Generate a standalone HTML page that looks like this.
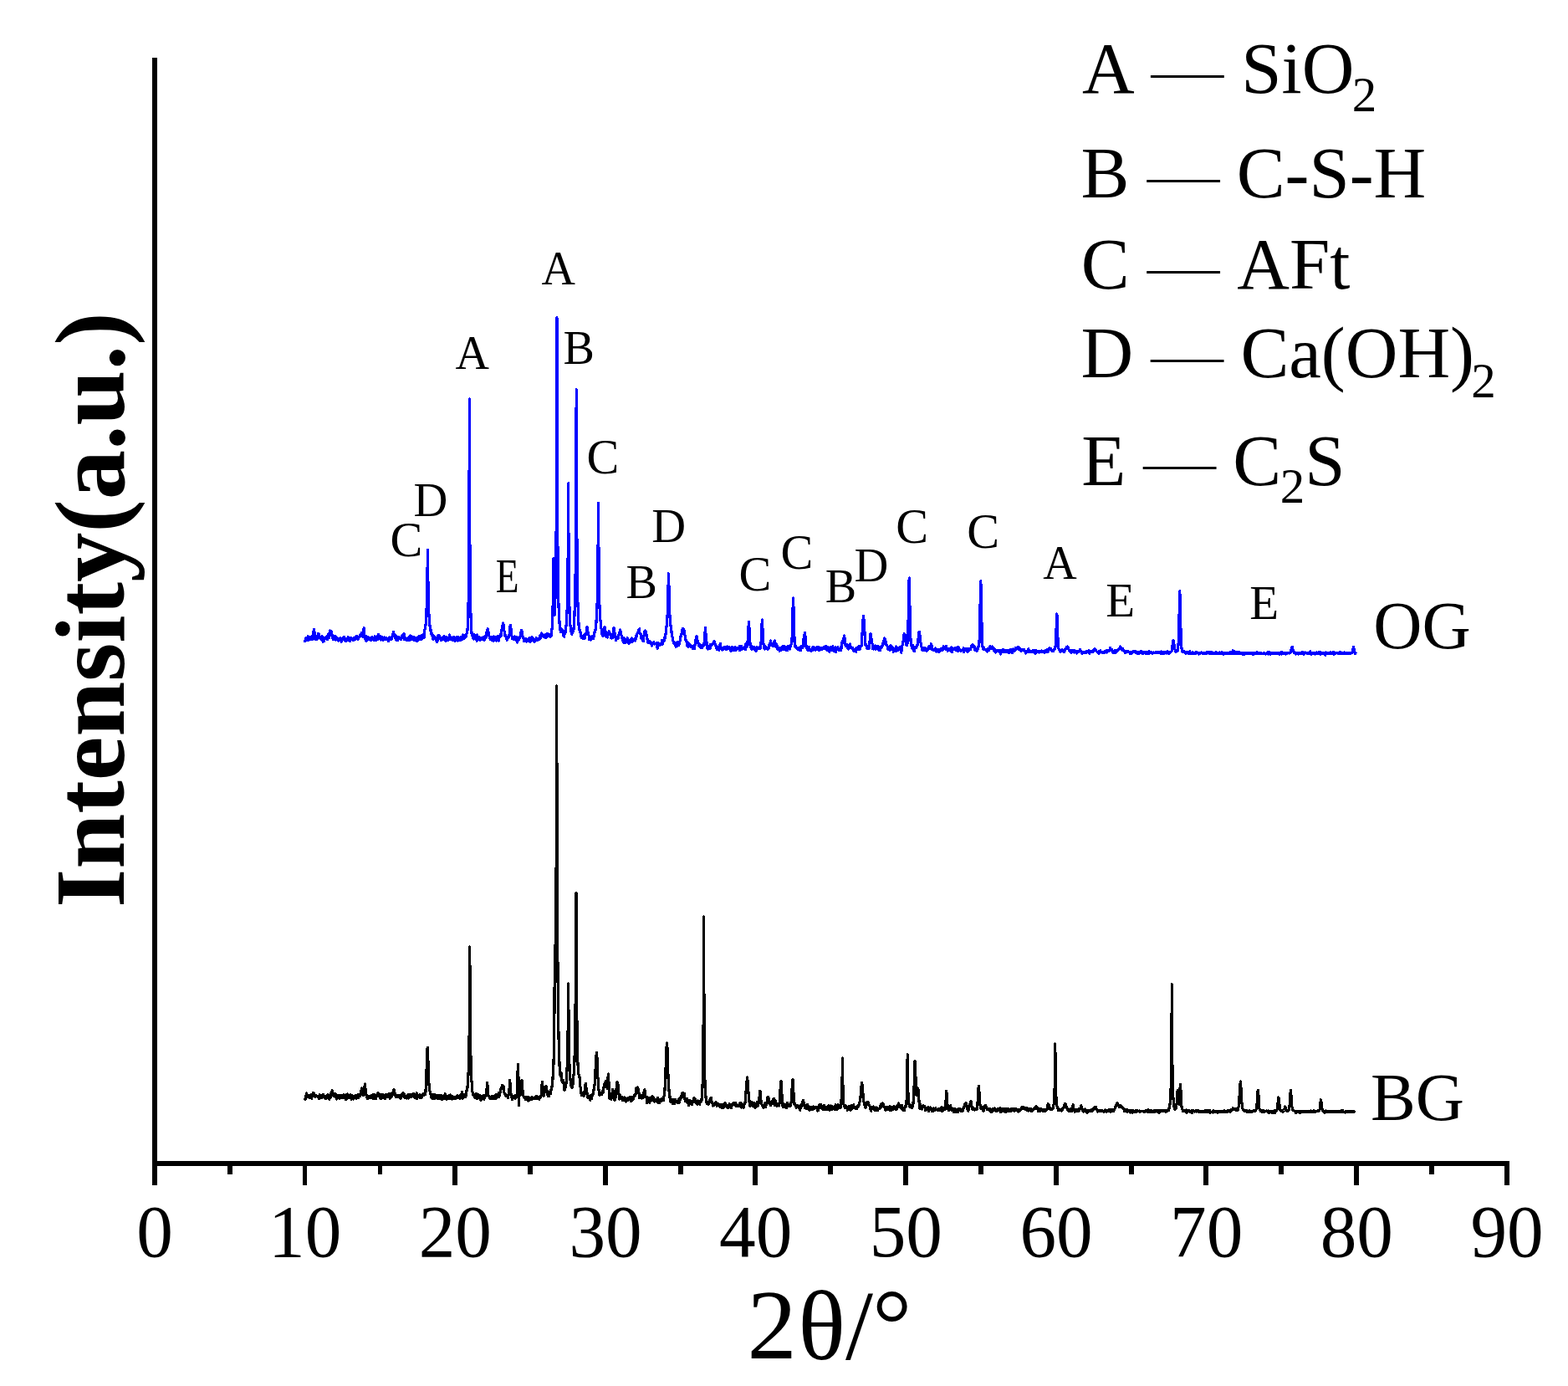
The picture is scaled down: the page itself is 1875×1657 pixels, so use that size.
<!DOCTYPE html>
<html lang="en"><head><meta charset="utf-8"><title>XRD patterns of OG and BG</title>
<style>
html,body{margin:0;padding:0;background:#fff;}
body{width:1875px;height:1657px;overflow:hidden;}
svg{display:block;}
svg text{font-family:'Liberation Serif','Times New Roman',Times,serif;fill:#000;}
</style></head>
<body>
<svg width="1875" height="1657" viewBox="0 0 1875 1657">
<rect width="1875" height="1657" fill="#fff"/>
<g fill="#000" shape-rendering="crispEdges">
<rect x="182" y="69" width="6" height="1325"/>
<rect x="182" y="1388" width="1623" height="6"/>
<rect x="182" y="1390" width="6" height="27"/>
<rect x="272" y="1390" width="6" height="14"/>
<rect x="362" y="1390" width="5" height="27"/>
<rect x="452" y="1390" width="5" height="14"/>
<rect x="541" y="1390" width="6" height="27"/>
<rect x="631" y="1390" width="6" height="14"/>
<rect x="721" y="1390" width="6" height="27"/>
<rect x="811" y="1390" width="6" height="14"/>
<rect x="900" y="1390" width="6" height="27"/>
<rect x="990" y="1390" width="6" height="14"/>
<rect x="1080" y="1390" width="6" height="27"/>
<rect x="1170" y="1390" width="6" height="14"/>
<rect x="1260" y="1390" width="6" height="27"/>
<rect x="1350" y="1390" width="6" height="14"/>
<rect x="1439" y="1390" width="6" height="27"/>
<rect x="1529" y="1390" width="6" height="14"/>
<rect x="1619" y="1390" width="6" height="27"/>
<rect x="1709" y="1390" width="6" height="14"/>
<rect x="1799" y="1390" width="6" height="27"/>
</g>
<polyline fill="none" stroke="#0000ff" stroke-width="3.20" stroke-linejoin="round" stroke-linecap="square" shape-rendering="crispEdges" points="365.0,766.4 365.4,763.0 365.9,763.8 366.4,764.4 366.8,762.5 367.2,763.7 367.7,763.7 368.1,760.9 368.6,765.3 369.1,764.7 369.5,762.7 369.9,763.4 370.4,764.5 370.9,763.2 371.3,763.2 371.8,761.2 372.2,764.4 372.6,763.6 373.1,763.7 373.6,760.6 374.0,765.0 374.4,760.5 374.9,755.5 375.4,752.6 375.8,755.0 376.2,757.1 376.7,761.3 377.1,759.2 377.6,764.8 378.1,762.6 378.5,762.0 378.9,764.8 379.4,760.2 379.9,763.0 380.3,757.6 380.8,758.2 381.3,758.1 381.6,761.0 382.1,763.0 382.6,761.1 383.0,764.0 383.4,762.8 383.9,764.2 384.4,762.2 384.8,760.7 385.2,760.6 385.7,764.1 386.1,767.1 386.6,764.0 387.1,762.7 387.5,766.6 387.9,763.9 388.4,763.7 388.9,763.9 389.3,763.2 389.8,762.9 390.2,761.0 390.6,764.0 391.1,762.9 391.6,764.7 392.0,761.8 392.4,758.8 392.9,760.8 393.4,762.6 393.8,757.9 394.2,755.7 394.7,753.9 395.3,755.1 395.6,754.8 396.1,754.3 396.5,760.0 396.9,758.6 397.4,760.5 397.9,763.6 398.3,764.5 398.8,762.3 399.2,763.5 399.6,764.3 400.1,763.0 400.6,760.5 401.0,764.5 401.4,764.9 401.9,764.2 402.4,762.1 402.8,763.3 403.2,762.7 403.7,763.2 404.1,765.7 404.6,766.1 405.1,764.8 405.5,764.6 405.9,764.8 406.4,763.7 406.9,763.6 407.3,762.7 407.8,763.7 408.2,767.4 408.6,765.1 409.1,763.2 409.6,763.0 410.0,762.4 410.4,764.4 410.9,764.4 411.4,761.5 411.8,764.6 412.2,762.9 412.7,766.1 413.1,764.0 413.6,766.5 414.1,763.1 414.5,763.3 414.9,764.3 415.4,765.5 415.9,764.7 416.3,761.8 416.8,764.1 417.2,763.8 417.6,763.1 418.1,762.8 418.6,766.6 419.0,763.2 419.4,762.4 419.9,764.8 420.4,764.0 420.8,763.7 421.2,765.0 421.7,764.6 422.1,764.4 422.6,765.3 423.1,764.2 423.5,762.8 423.9,763.2 424.4,762.9 424.9,764.1 425.3,762.0 425.8,760.8 426.2,763.8 426.6,761.5 427.1,760.5 427.6,764.2 428.0,762.4 428.4,764.3 428.9,762.5 429.4,761.4 429.8,760.7 430.2,761.2 430.7,760.5 431.1,758.5 431.7,759.1 432.1,756.9 432.5,760.2 432.9,758.1 433.4,760.9 433.9,761.3 434.3,758.8 434.8,755.4 435.1,750.9 435.6,756.0 436.1,761.0 436.6,763.3 437.0,761.3 437.4,763.8 437.9,766.3 438.4,761.1 438.8,764.3 439.2,765.4 439.7,762.5 440.1,764.6 440.6,762.0 441.1,762.4 441.5,762.4 441.9,764.1 442.4,763.6 442.9,765.3 443.3,762.3 443.8,763.6 444.2,765.3 444.6,764.7 445.1,761.7 445.6,764.8 446.0,763.0 446.4,764.4 446.9,764.3 447.4,765.7 447.8,763.9 448.2,760.8 448.7,761.5 449.1,764.9 449.6,763.3 450.1,765.4 450.5,763.9 450.9,762.0 451.4,764.5 451.9,760.8 452.3,758.1 452.8,764.0 453.0,760.6 453.6,762.3 454.1,763.6 454.6,763.0 455.0,760.5 455.4,765.1 455.9,761.3 456.4,761.5 456.8,763.1 457.2,765.0 457.7,764.2 458.1,765.1 458.6,763.1 459.1,763.5 459.5,762.0 459.9,763.3 460.4,764.7 460.9,763.3 461.3,764.5 461.8,762.9 462.2,762.8 462.6,763.8 463.1,763.4 463.6,764.7 464.0,764.0 464.4,766.5 464.9,763.3 465.4,763.3 465.8,762.0 466.2,763.6 466.7,764.6 467.1,762.3 467.6,763.2 468.1,764.1 468.5,762.2 468.9,760.5 469.4,761.3 469.9,757.9 470.3,756.6 470.6,755.6 471.2,758.9 471.6,758.5 472.1,760.0 472.6,762.5 473.0,762.6 473.4,760.1 473.9,765.4 474.4,763.5 474.8,764.7 475.2,761.7 475.7,765.7 476.1,762.7 476.6,763.4 477.1,761.4 477.5,763.3 477.9,763.2 478.4,763.2 478.9,764.2 479.3,763.4 479.8,764.6 480.2,761.7 480.6,760.0 481.1,760.3 481.6,760.2 482.0,758.6 482.4,760.5 482.9,757.5 483.4,762.2 483.8,764.8 484.2,763.1 484.7,762.5 485.1,764.0 485.6,762.8 486.1,764.6 486.5,763.6 486.9,765.9 487.4,764.5 487.9,762.5 488.3,764.7 488.8,765.2 489.2,762.8 489.6,763.0 490.1,760.0 490.6,765.2 491.0,762.8 491.4,760.3 491.9,760.9 492.4,763.4 492.8,764.9 493.2,763.6 493.7,764.4 494.1,761.9 494.6,761.5 495.1,765.1 495.5,764.4 496.0,763.6 496.4,765.7 496.9,762.1 497.3,762.9 497.8,765.2 498.2,766.5 498.6,763.5 499.1,766.1 499.6,762.4 500.0,763.9 500.5,763.0 500.9,760.7 501.4,763.6 501.8,764.6 502.2,762.7 502.7,762.7 503.1,764.9 503.6,760.5 504.1,759.8 504.5,760.9 505.0,759.6 505.4,763.2 505.9,761.0 506.3,758.3 506.8,757.7 507.2,762.0 507.6,754.7 508.1,752.2 508.6,751.0 509.0,747.6 509.5,741.7 509.9,732.3 510.4,720.3 510.8,702.1 511.4,657.2 511.7,674.9 512.1,711.6 512.6,727.9 513.0,736.2 513.5,742.9 514.0,748.5 514.4,750.5 514.9,752.1 515.3,756.8 515.8,755.6 516.2,759.7 516.6,757.7 517.1,760.6 517.5,761.1 518.0,764.6 518.5,760.4 518.9,760.1 519.4,761.6 519.8,761.0 520.2,762.0 520.7,763.8 521.1,764.4 521.6,765.9 522.0,762.2 522.5,767.6 523.0,766.7 523.4,763.2 523.9,759.9 524.3,763.5 524.8,763.8 525.2,760.0 525.6,763.8 526.1,763.4 526.5,762.5 527.0,764.8 527.5,765.4 527.9,763.0 528.4,764.2 528.8,762.8 529.2,762.6 529.7,764.0 530.1,764.7 530.6,763.0 531.0,760.3 531.5,764.8 532.0,761.3 532.4,764.1 532.9,766.8 533.3,763.9 533.8,762.0 534.2,761.6 534.6,765.8 535.1,763.9 535.5,764.8 536.0,765.4 536.5,763.9 536.9,763.5 537.4,762.4 537.8,759.0 538.2,761.5 538.7,763.8 539.1,763.7 539.6,764.6 540.0,763.8 540.5,764.2 541.0,765.2 541.4,762.5 541.9,763.5 542.3,761.4 542.8,765.5 543.2,764.0 543.6,764.7 544.1,766.4 544.5,765.7 545.0,763.8 545.5,765.2 545.9,761.6 546.4,764.6 546.8,764.1 547.2,761.3 547.7,766.0 548.1,762.7 548.6,764.9 549.0,763.2 549.5,765.4 550.0,765.9 550.4,762.4 550.9,761.3 551.3,763.5 551.8,765.0 552.2,763.0 552.6,762.6 553.1,764.3 553.5,759.0 554.0,762.2 554.5,761.0 554.9,763.5 555.4,761.7 555.8,760.8 556.2,761.7 556.7,759.5 557.1,761.1 557.6,759.0 558.0,757.9 558.5,754.8 559.0,753.2 559.4,744.3 559.9,732.6 560.3,709.6 560.8,662.5 561.4,477.0 561.6,597.4 562.1,683.3 562.5,717.4 563.0,736.1 563.5,748.6 563.9,756.9 564.4,755.7 564.8,760.0 565.2,760.0 565.7,762.7 566.1,762.7 566.6,764.1 567.0,758.3 567.5,762.0 568.0,761.5 568.4,763.1 568.9,762.2 569.3,762.4 569.8,764.6 570.2,766.6 570.6,759.1 571.1,763.2 571.5,764.2 572.0,763.8 572.5,763.2 572.9,761.6 573.4,762.3 573.8,765.0 574.2,765.6 574.7,764.0 575.1,762.5 575.6,764.0 576.0,763.4 576.5,764.7 577.0,764.0 577.4,762.7 577.9,764.0 578.3,761.7 578.8,764.8 579.2,765.2 579.6,761.2 580.1,763.2 580.5,760.1 581.0,762.1 581.5,760.0 581.9,756.0 582.4,755.8 583.0,752.6 583.2,751.8 583.7,753.5 584.1,756.4 584.6,758.3 585.0,760.9 585.5,760.9 586.0,763.9 586.4,764.8 586.9,762.6 587.3,761.3 587.8,764.8 588.2,765.6 588.6,763.5 589.1,761.8 589.5,764.3 590.0,766.3 590.5,760.9 590.9,764.7 591.4,763.4 591.8,762.6 592.2,764.7 592.7,761.8 593.1,764.4 593.6,766.0 594.0,764.1 594.5,762.4 595.0,760.9 595.4,761.6 595.9,760.7 596.3,766.1 596.8,763.0 597.2,761.5 597.6,760.7 598.1,760.5 598.5,760.8 599.0,757.8 599.5,760.3 599.9,753.5 600.4,750.0 600.8,748.3 601.2,747.8 601.5,745.1 602.1,746.7 602.6,751.2 603.0,754.5 603.5,758.1 604.0,760.0 604.4,759.6 604.9,760.0 605.3,762.9 605.8,761.0 606.2,765.3 606.6,763.2 607.1,761.5 607.5,762.5 608.0,761.8 608.5,761.6 608.9,761.3 609.4,754.0 609.8,748.6 610.4,747.6 610.7,748.5 611.1,753.5 611.6,758.5 612.0,760.6 612.5,763.7 613.0,761.7 613.4,763.6 613.9,762.4 614.3,762.0 614.8,764.9 615.2,764.9 615.6,760.9 616.1,762.3 616.5,764.6 617.0,765.8 617.5,763.0 617.9,763.8 618.4,761.8 618.8,768.0 619.2,764.7 619.7,765.3 620.1,764.7 620.6,764.8 621.0,763.7 621.5,761.0 622.0,761.0 622.4,757.6 622.9,757.1 623.4,753.6 623.8,753.4 624.2,757.4 624.7,760.9 625.1,761.1 625.5,761.2 626.0,763.0 626.5,762.9 626.9,767.0 627.4,765.5 627.8,766.2 628.2,764.7 628.7,763.4 629.2,766.2 629.6,767.0 630.0,765.3 630.5,764.4 631.0,766.2 631.4,763.9 631.9,765.7 632.3,763.3 632.8,762.9 633.2,765.4 633.7,765.0 634.1,767.6 634.5,764.1 635.0,764.5 635.5,762.7 635.9,761.5 636.4,761.7 636.8,765.2 637.2,762.6 637.7,766.3 638.2,766.8 638.6,764.0 639.0,767.1 639.5,764.8 640.0,766.2 640.4,764.0 640.9,765.9 641.3,762.8 641.8,765.3 642.2,763.5 642.7,764.0 643.1,765.1 643.5,764.3 644.0,763.7 644.5,764.8 644.9,764.6 645.4,760.7 645.8,763.2 646.2,762.6 646.7,759.5 647.2,760.4 647.6,756.8 648.0,760.6 648.4,758.1 649.0,758.2 649.4,760.9 649.9,759.4 650.3,761.3 650.8,759.2 651.2,760.3 651.7,759.1 652.1,760.8 652.5,762.5 653.0,760.8 653.5,761.3 653.9,757.8 654.4,757.5 655.0,758.6 655.2,759.5 655.7,759.3 656.2,758.9 656.6,760.3 657.0,759.3 657.5,759.7 658.0,761.8 658.4,758.4 658.9,758.8 659.3,759.6 659.8,754.4 660.2,750.4 660.7,739.3 661.1,725.4 661.6,667.8 662.0,709.9 662.5,727.2 662.9,735.8 663.4,731.2 663.8,721.3 664.2,703.1 664.7,677.7 665.2,626.4 665.6,503.0 665.9,379.9 666.5,597.1 667.0,665.1 667.4,699.7 667.9,720.4 668.3,733.5 668.8,739.7 669.2,748.3 669.7,750.3 670.1,754.2 670.5,755.6 671.0,753.4 671.5,752.1 671.8,753.6 672.4,755.9 672.8,756.3 673.2,754.0 673.7,759.5 674.2,760.7 674.6,761.3 675.0,757.8 675.5,756.9 676.0,755.8 676.4,755.6 676.9,749.1 677.3,745.9 677.8,737.2 678.2,727.5 678.7,705.3 679.1,669.5 679.6,577.8 680.0,653.5 680.5,702.3 680.9,725.1 681.4,733.3 681.8,745.6 682.2,750.1 682.7,752.0 683.2,756.8 683.6,755.9 684.0,758.1 684.5,754.8 685.0,753.4 685.4,754.9 685.9,753.6 686.3,746.7 686.8,740.3 687.2,727.8 687.7,710.5 688.1,686.6 688.5,641.7 689.2,465.6 689.5,539.9 689.9,643.7 690.4,691.0 690.8,716.6 691.2,728.5 691.7,739.9 692.2,749.3 692.6,751.6 693.0,752.9 693.5,754.9 694.0,755.3 694.4,760.8 694.9,759.2 695.3,762.6 695.8,762.8 696.2,760.6 696.7,761.1 697.1,763.3 697.5,762.4 698.0,762.7 698.5,759.6 698.9,763.6 699.4,760.5 699.8,757.7 700.2,759.0 700.7,758.3 701.2,757.6 701.6,750.2 702.0,749.4 702.5,754.9 703.0,755.4 703.4,758.0 703.9,758.9 704.3,760.1 704.8,764.7 705.2,762.1 705.7,761.8 706.1,761.9 706.5,765.2 707.0,761.6 707.5,763.5 707.9,762.7 708.4,762.4 708.8,760.3 709.2,762.3 709.7,763.3 710.2,759.8 710.6,757.4 711.0,755.5 711.5,756.0 712.0,752.8 712.4,749.8 712.9,745.4 713.3,736.8 713.8,731.6 714.2,717.6 714.7,695.5 715.1,652.5 715.5,601.6 716.0,664.9 716.5,700.3 716.9,722.6 717.4,731.9 717.8,739.6 718.2,744.1 718.7,750.8 719.2,752.2 719.6,755.3 720.0,758.5 720.5,758.9 721.0,760.9 721.4,759.4 721.9,756.5 722.3,753.5 722.8,749.8 723.1,749.6 723.7,752.7 724.1,756.0 724.5,761.1 725.0,761.6 725.5,761.3 725.9,759.6 726.4,762.1 726.8,760.7 727.2,758.9 727.7,756.5 728.2,754.6 728.5,755.6 729.0,756.9 729.5,758.0 730.0,759.6 730.4,760.5 730.9,762.8 731.3,763.1 731.8,761.4 732.2,762.9 732.7,760.6 733.1,757.0 733.5,751.5 733.9,750.4 734.5,751.6 734.9,758.9 735.4,757.6 735.8,762.3 736.2,763.2 736.7,765.5 737.2,764.3 737.6,762.7 738.0,761.9 738.5,762.6 739.0,763.3 739.4,762.1 739.9,760.1 740.3,757.1 740.8,755.4 741.2,755.4 741.6,753.1 742.1,754.3 742.5,759.0 743.0,759.8 743.5,760.4 743.9,763.8 744.4,762.6 744.8,764.5 745.2,767.4 745.7,768.2 746.2,762.6 746.6,766.5 747.0,768.6 747.5,764.7 748.0,766.0 748.4,768.1 748.9,764.9 749.3,766.5 749.8,765.7 750.2,762.7 750.7,766.4 751.1,765.6 751.5,767.5 752.0,769.4 752.5,767.1 752.9,765.5 753.4,766.8 753.8,766.5 754.2,767.8 754.7,763.9 755.2,764.3 755.6,762.9 756.0,767.1 756.5,766.1 757.0,765.0 757.4,764.7 757.9,764.8 758.3,764.0 758.8,764.6 759.2,763.8 759.7,766.1 760.1,763.5 760.5,760.5 761.0,759.5 761.5,760.9 761.9,758.1 762.4,756.2 762.8,755.5 763.2,756.0 763.7,753.1 764.2,752.3 764.6,751.7 765.0,756.7 765.5,756.9 766.0,758.0 766.4,759.4 766.9,763.0 767.3,762.7 767.8,762.8 768.2,766.0 768.7,762.2 769.1,761.2 769.5,766.3 770.0,759.9 770.5,757.6 770.9,755.2 771.4,754.5 771.8,754.1 772.2,756.1 772.7,757.7 773.2,758.7 773.6,759.1 774.0,764.0 774.5,767.5 775.0,768.0 775.4,766.8 775.9,768.9 776.3,767.4 776.8,768.1 777.2,766.4 777.7,768.1 778.1,768.9 778.5,768.5 779.0,770.1 779.5,772.0 779.9,771.2 780.4,768.7 780.8,768.1 781.2,768.2 781.7,767.8 782.2,769.5 782.6,770.1 783.0,769.8 783.5,769.9 784.0,769.8 784.4,769.4 784.9,768.5 785.3,772.4 785.8,771.4 786.2,775.5 786.7,768.2 787.1,768.7 787.5,769.7 788.0,771.6 788.5,771.2 788.9,771.2 789.4,771.1 789.8,771.0 790.2,770.2 790.7,769.6 791.2,768.4 791.6,765.5 792.0,767.6 792.5,770.2 793.0,765.9 793.4,765.0 793.9,766.7 794.3,764.0 794.8,761.8 795.2,763.3 795.7,759.7 796.1,757.3 796.5,752.0 797.0,749.6 797.5,744.3 797.9,738.3 798.4,729.7 798.8,715.7 799.2,694.5 799.5,685.8 800.2,710.2 800.6,727.8 801.0,737.5 801.5,742.8 802.0,747.4 802.4,752.8 802.9,754.3 803.3,759.5 803.8,761.6 804.2,761.4 804.7,764.5 805.1,767.3 805.5,768.3 806.0,769.0 806.5,767.8 806.9,768.1 807.4,768.4 807.8,770.3 808.2,773.4 808.7,772.1 809.2,772.5 809.6,772.2 810.0,767.4 810.5,769.6 811.0,769.0 811.4,771.3 811.9,771.5 812.3,766.9 812.8,766.9 813.2,766.3 813.7,762.9 814.1,760.6 814.5,758.3 815.0,758.4 815.5,753.2 815.9,754.5 816.4,751.6 816.7,751.2 817.2,754.5 817.7,752.6 818.2,754.6 818.6,759.0 819.0,759.2 819.5,762.0 820.0,765.0 820.4,767.1 820.9,766.2 821.3,768.7 821.8,771.0 822.2,772.9 822.7,768.0 823.1,773.6 823.5,773.2 824.0,770.2 824.5,769.8 824.9,772.9 825.4,771.7 825.8,772.6 826.2,773.8 826.7,771.9 827.2,772.8 827.6,773.3 828.0,774.0 828.5,775.4 829.0,775.2 829.4,772.8 829.9,771.8 830.3,775.5 830.8,771.9 831.2,770.0 831.7,765.4 832.1,765.7 832.5,761.0 832.9,761.6 833.5,761.1 833.9,765.0 834.4,768.5 834.8,767.9 835.2,770.2 835.7,772.2 836.2,770.7 836.6,771.0 837.0,771.8 837.5,770.9 838.0,774.2 838.4,771.7 838.9,774.5 839.3,774.7 839.8,771.3 840.2,773.2 840.7,772.2 841.1,770.8 841.5,771.3 842.0,769.3 842.5,765.8 842.9,758.1 843.4,750.4 843.8,754.0 844.2,763.9 844.7,770.9 845.2,767.8 845.6,774.8 846.0,772.9 846.5,775.9 847.0,772.9 847.4,772.4 847.9,773.8 848.3,775.7 848.8,773.9 849.2,770.1 849.7,774.9 850.1,771.2 850.5,772.1 851.0,771.6 851.5,770.2 851.9,770.5 852.4,769.9 852.8,769.2 853.2,768.5 853.7,766.7 854.2,766.6 854.6,766.8 855.0,769.9 855.5,771.5 856.0,771.6 856.4,773.5 856.9,774.7 857.3,776.0 857.8,776.8 858.2,773.8 858.7,774.0 859.1,776.8 859.5,777.1 860.0,777.1 860.5,770.9 860.9,774.3 861.4,769.5 861.8,775.9 862.2,774.9 862.7,774.9 863.2,774.6 863.6,776.9 864.0,774.4 864.5,776.6 865.0,775.8 865.4,775.5 865.9,775.7 866.3,775.1 866.8,773.2 867.2,776.1 867.7,776.2 868.1,774.8 868.5,776.2 869.0,776.5 869.5,773.0 869.9,774.9 870.4,774.4 870.8,773.7 871.2,775.6 871.7,773.8 872.2,774.5 872.6,775.6 873.0,775.7 873.5,775.7 874.0,778.8 874.4,774.4 874.9,775.6 875.3,773.3 875.8,776.0 876.2,777.1 876.7,777.2 877.1,774.3 877.6,774.8 878.0,777.3 878.5,775.1 878.9,776.8 879.4,773.8 879.8,777.5 880.2,777.0 880.7,776.1 881.1,774.1 881.6,775.1 882.1,775.6 882.5,775.8 883.0,775.2 883.4,775.0 883.9,775.7 884.3,777.6 884.8,772.2 885.2,773.2 885.6,772.9 886.1,774.3 886.6,772.6 887.0,776.2 887.5,775.5 887.9,774.9 888.4,774.2 888.8,775.5 889.2,775.5 889.7,775.7 890.1,774.0 890.6,776.1 891.1,772.6 891.5,776.8 892.0,769.6 892.4,773.2 892.9,771.6 893.3,773.4 893.8,766.7 894.2,766.0 894.6,751.8 895.1,748.7 895.4,743.2 896.0,751.1 896.5,761.2 896.9,771.0 897.4,772.9 897.8,769.7 898.2,776.0 898.7,774.9 899.1,772.3 899.6,776.2 900.1,773.2 900.5,775.6 901.0,775.7 901.4,774.4 901.9,776.5 902.3,773.8 902.8,775.8 903.2,774.6 903.6,775.2 904.1,778.6 904.6,775.7 905.0,773.7 905.5,775.3 905.9,774.2 906.4,775.4 906.8,775.5 907.2,775.3 907.7,775.2 908.1,773.9 908.6,775.2 909.1,775.6 909.5,771.6 910.0,768.9 910.4,761.0 910.9,750.5 911.3,740.9 911.8,747.3 912.2,761.0 912.6,766.6 913.1,771.0 913.6,773.9 914.0,775.4 914.5,776.2 914.9,774.4 915.4,772.8 915.8,775.7 916.2,774.8 916.7,775.8 917.1,775.3 917.6,776.1 918.1,775.9 918.5,775.9 919.0,773.2 919.4,774.7 919.9,771.0 920.3,770.2 920.8,771.2 921.2,767.2 921.6,766.1 922.1,769.2 922.6,770.0 923.0,771.9 923.5,771.7 923.9,772.7 924.4,771.8 924.8,770.4 925.2,772.7 925.7,768.0 926.1,766.2 926.7,766.1 927.1,769.5 927.5,769.5 928.0,769.3 928.4,771.6 928.9,773.9 929.3,775.4 929.8,772.0 930.2,776.4 930.6,774.8 931.1,774.2 931.6,774.7 932.0,776.7 932.5,778.3 932.9,775.8 933.4,776.4 933.8,774.3 934.2,776.4 934.7,776.9 935.1,773.2 935.6,774.8 936.1,776.9 936.5,772.8 937.0,775.0 937.4,776.6 937.9,772.9 938.3,775.0 938.8,775.7 939.2,777.0 939.6,773.5 940.1,777.3 940.6,776.0 941.0,777.4 941.5,777.3 941.9,775.9 942.4,776.1 942.8,772.4 943.2,772.9 943.7,773.3 944.1,774.2 944.6,776.0 945.1,771.3 945.5,773.1 946.0,770.6 946.4,768.4 946.9,768.7 947.3,756.4 947.8,741.7 948.2,722.2 948.5,715.1 949.1,729.4 949.6,754.6 950.0,763.1 950.5,767.9 950.9,773.3 951.4,773.5 951.8,772.8 952.2,773.8 952.7,774.9 953.1,774.9 953.6,776.2 954.1,774.5 954.5,774.6 955.0,776.1 955.4,775.7 955.9,777.0 956.3,774.8 956.8,775.1 957.2,773.3 957.6,777.5 958.1,772.8 958.6,775.2 959.0,773.2 959.5,774.7 959.9,774.4 960.4,768.8 960.8,768.1 961.2,761.5 961.7,762.2 962.2,757.6 962.6,756.6 963.1,762.2 963.5,769.7 964.0,773.3 964.4,775.0 964.9,772.9 965.3,774.4 965.8,777.6 966.2,774.0 966.6,774.8 967.1,773.9 967.6,773.6 968.0,777.5 968.5,776.6 968.9,776.3 969.4,776.6 969.8,777.3 970.2,778.1 970.7,775.7 971.1,775.2 971.6,774.1 972.1,777.5 972.5,775.0 973.0,773.4 973.4,775.4 973.9,775.8 974.3,777.1 974.8,777.4 975.2,774.7 975.6,774.6 976.1,775.3 976.6,773.9 977.0,775.7 977.5,776.6 977.9,775.9 978.4,773.3 978.8,773.9 979.2,777.9 979.7,774.2 980.1,777.0 980.6,776.9 981.1,775.3 981.5,774.3 982.0,776.2 982.4,774.4 982.9,775.6 983.3,776.0 983.8,774.7 984.2,775.5 984.6,775.4 985.1,773.9 985.6,775.6 986.0,774.8 986.5,772.9 986.9,775.3 987.4,775.4 987.8,774.9 988.2,772.6 988.7,777.1 989.1,777.0 989.6,776.9 990.1,776.4 990.5,773.8 991.0,776.0 991.4,774.4 991.9,779.3 992.3,775.0 992.8,776.9 993.2,773.3 993.6,773.9 994.1,775.0 994.6,776.9 995.0,776.7 995.5,776.3 995.9,772.8 996.4,777.6 996.8,774.3 997.2,778.3 997.7,778.7 998.1,777.1 998.6,777.3 999.1,773.7 999.5,779.8 1000.0,776.0 1000.4,777.2 1000.9,774.2 1001.3,775.5 1001.8,773.7 1002.2,775.1 1002.6,775.5 1003.1,775.8 1003.6,777.5 1004.0,776.0 1004.5,775.4 1004.9,774.8 1005.4,777.6 1005.8,772.8 1006.2,774.7 1006.7,768.4 1007.1,768.3 1007.6,768.2 1008.1,765.0 1008.5,768.1 1009.1,762.1 1009.4,760.0 1009.9,762.2 1010.3,765.8 1010.8,771.0 1011.2,772.1 1011.6,772.4 1012.1,770.9 1012.6,772.6 1013.0,770.1 1013.5,772.2 1013.9,775.4 1014.4,775.9 1014.8,772.1 1015.2,773.4 1015.7,774.3 1016.1,770.6 1016.4,770.1 1017.1,772.6 1017.5,774.1 1018.0,774.5 1018.4,774.2 1018.9,774.7 1019.3,775.6 1019.8,774.7 1020.2,777.7 1020.6,777.0 1021.1,777.3 1021.6,778.8 1022.0,778.1 1022.5,777.9 1022.9,776.2 1023.4,775.3 1023.8,779.2 1024.2,774.5 1024.7,774.5 1025.2,774.1 1025.6,775.7 1026.1,776.0 1026.5,776.8 1027.0,774.7 1027.4,772.2 1027.8,775.2 1028.3,775.9 1028.8,774.0 1029.2,773.0 1029.7,772.8 1030.1,771.9 1030.6,765.8 1031.0,757.9 1031.5,751.8 1031.9,744.4 1032.3,736.1 1032.6,737.9 1033.2,742.7 1033.7,752.5 1034.2,759.6 1034.6,764.7 1035.1,771.7 1035.5,770.7 1036.0,771.9 1036.4,774.1 1036.8,775.3 1037.3,774.2 1037.8,772.7 1038.2,775.1 1038.7,774.5 1039.1,775.7 1039.6,770.1 1040.0,767.5 1040.5,762.2 1040.9,757.3 1041.2,758.8 1041.8,763.2 1042.2,764.5 1042.7,768.7 1043.2,770.5 1043.6,775.9 1044.1,773.7 1044.5,775.9 1045.0,774.0 1045.4,775.6 1045.8,774.6 1046.3,772.0 1046.8,775.8 1047.2,776.5 1047.7,772.6 1048.1,775.5 1048.6,775.1 1049.0,774.2 1049.5,775.4 1049.9,772.8 1050.3,776.2 1050.8,777.5 1051.2,773.8 1051.7,775.5 1052.2,777.7 1052.6,775.6 1053.1,774.4 1053.5,773.5 1054.0,774.7 1054.4,773.5 1054.8,773.8 1055.3,769.4 1055.8,772.0 1056.2,768.3 1056.7,768.3 1057.1,764.9 1057.6,763.1 1057.9,764.8 1058.5,763.9 1058.9,766.0 1059.3,769.0 1059.8,771.2 1060.2,771.4 1060.7,771.5 1061.2,772.7 1061.6,775.0 1062.1,776.4 1062.5,774.7 1063.0,775.2 1063.4,774.5 1063.8,776.1 1064.3,777.3 1064.8,771.6 1065.2,776.4 1065.7,775.2 1066.1,772.6 1066.6,776.6 1067.0,776.0 1067.5,776.7 1067.9,774.1 1068.3,779.4 1068.8,776.3 1069.2,775.7 1069.7,778.5 1070.2,777.2 1070.6,777.4 1071.1,777.9 1071.5,773.1 1072.0,778.7 1072.4,775.6 1072.8,776.6 1073.3,777.5 1073.8,775.0 1074.2,776.5 1074.7,777.1 1075.1,775.8 1075.6,776.6 1076.0,773.4 1076.5,773.8 1076.9,773.7 1077.3,775.7 1077.8,780.3 1078.2,774.5 1078.7,772.7 1079.2,771.0 1079.6,769.9 1080.1,766.1 1080.5,759.7 1081.0,760.0 1081.3,757.6 1081.8,760.5 1082.3,759.4 1082.8,763.4 1083.2,769.3 1083.7,767.5 1084.1,771.5 1084.6,771.3 1085.0,769.3 1085.5,764.8 1085.9,752.8 1086.3,731.1 1086.8,702.6 1087.2,690.9 1087.7,713.3 1088.2,738.1 1088.6,757.2 1089.1,767.0 1089.5,769.7 1090.0,772.9 1090.4,773.2 1090.8,775.5 1091.3,773.2 1091.8,771.4 1092.2,774.3 1092.7,776.2 1093.1,778.9 1093.6,776.8 1094.0,773.9 1094.5,775.0 1094.9,773.8 1095.3,774.7 1095.8,773.2 1096.2,771.3 1096.7,772.9 1097.2,770.3 1097.6,766.5 1098.1,763.3 1098.5,761.7 1099.0,756.0 1099.2,755.4 1099.8,759.6 1100.3,760.1 1100.8,767.6 1101.2,768.8 1101.7,771.1 1102.1,774.0 1102.6,777.2 1103.0,774.3 1103.5,777.1 1103.9,776.4 1104.3,774.1 1104.8,777.5 1105.2,775.1 1105.7,774.2 1106.2,775.3 1106.6,775.4 1107.1,777.3 1107.5,775.5 1108.0,778.7 1108.4,776.8 1108.8,775.5 1109.3,775.3 1109.8,776.7 1110.2,773.2 1110.7,772.6 1111.1,773.9 1111.6,775.4 1112.0,773.9 1112.5,772.9 1112.9,772.6 1113.3,769.8 1113.8,773.2 1114.2,772.0 1114.7,776.5 1115.2,775.9 1115.6,776.2 1116.1,777.1 1116.5,777.2 1117.0,777.1 1117.4,777.3 1117.8,776.1 1118.3,775.0 1118.8,777.4 1119.2,779.0 1119.7,778.4 1120.1,776.7 1120.6,777.9 1121.0,776.4 1121.5,777.6 1121.9,776.2 1122.3,777.2 1122.8,779.9 1123.2,778.1 1123.7,779.1 1124.2,775.9 1124.6,775.9 1125.1,776.8 1125.5,777.4 1126.0,776.2 1126.4,777.6 1126.8,775.0 1127.3,777.3 1127.8,776.3 1128.2,772.9 1128.7,775.0 1129.0,774.1 1129.6,775.7 1130.0,773.9 1130.5,775.6 1130.9,776.4 1131.3,772.2 1131.8,773.8 1132.2,776.8 1132.7,776.7 1133.2,778.4 1133.6,777.4 1134.1,775.4 1134.5,777.6 1135.0,776.1 1135.4,776.9 1135.8,776.5 1136.3,777.7 1136.8,775.2 1137.2,775.6 1137.7,774.1 1138.1,780.0 1138.6,775.5 1139.0,775.5 1139.5,774.9 1139.9,775.3 1140.3,775.2 1140.8,776.2 1141.2,775.3 1141.9,774.9 1142.2,774.1 1142.6,775.1 1143.1,777.1 1143.5,775.9 1144.0,776.7 1144.4,773.9 1144.8,777.5 1145.3,777.4 1145.8,778.9 1146.2,773.6 1146.7,777.4 1147.1,777.2 1147.6,777.5 1148.0,776.6 1148.5,777.7 1148.9,778.4 1149.3,777.5 1149.8,777.1 1150.2,777.2 1150.7,777.0 1151.2,777.5 1151.6,776.6 1152.1,774.9 1152.5,779.3 1153.0,775.2 1153.4,777.3 1153.8,775.8 1154.3,777.1 1154.8,776.2 1155.2,777.4 1155.7,776.4 1156.1,775.7 1156.6,777.8 1157.0,779.0 1157.5,777.7 1157.9,777.4 1158.3,775.8 1158.8,776.8 1159.2,777.2 1159.7,775.4 1160.2,776.8 1160.6,774.8 1161.1,774.3 1161.5,772.2 1162.0,771.1 1162.4,771.3 1162.7,770.9 1163.3,771.8 1163.8,771.1 1164.2,772.5 1164.7,774.4 1165.1,772.9 1165.6,777.1 1166.0,776.6 1166.5,776.4 1166.9,775.6 1167.3,777.5 1167.8,776.0 1168.2,778.5 1168.7,776.4 1169.2,773.7 1169.6,775.9 1170.1,773.4 1170.5,771.7 1171.0,767.9 1171.4,758.2 1171.8,739.3 1172.3,713.3 1172.8,694.8 1173.2,705.9 1173.7,731.8 1174.1,754.0 1174.6,767.2 1175.0,772.8 1175.5,776.1 1175.9,773.4 1176.3,775.7 1176.8,775.8 1177.2,775.9 1177.7,776.8 1178.2,776.5 1178.6,776.7 1179.1,776.3 1179.5,777.6 1180.0,778.4 1180.4,779.1 1180.8,776.5 1181.3,775.8 1181.8,776.5 1182.2,775.5 1182.7,777.2 1183.1,774.5 1183.6,775.0 1184.0,772.7 1184.5,773.4 1185.0,773.6 1185.3,775.4 1185.8,773.3 1186.2,775.1 1186.7,773.0 1187.2,774.6 1187.6,775.6 1188.1,776.4 1188.5,777.8 1189.0,778.2 1189.4,775.9 1189.8,778.4 1190.3,776.6 1190.8,780.0 1191.2,778.3 1191.7,778.2 1192.1,777.8 1192.6,778.0 1193.0,778.1 1193.5,777.3 1193.9,778.9 1194.3,778.4 1194.8,779.0 1195.2,778.1 1195.7,778.9 1196.2,777.3 1196.6,782.1 1197.1,777.4 1197.5,777.7 1198.0,779.3 1198.4,779.6 1198.8,777.4 1199.3,776.4 1199.8,776.7 1200.2,777.2 1200.7,777.4 1201.1,778.1 1201.6,779.4 1202.0,779.5 1202.5,777.6 1202.9,778.9 1203.3,779.2 1203.8,779.8 1204.2,778.1 1204.7,777.5 1205.2,779.1 1205.6,779.9 1206.1,777.7 1206.5,780.3 1207.0,780.1 1207.4,778.0 1207.8,776.6 1208.3,777.6 1208.8,777.9 1209.2,778.8 1209.7,776.4 1210.1,780.7 1210.6,780.5 1211.0,777.3 1211.5,776.0 1211.9,777.6 1212.3,778.0 1212.8,778.8 1213.2,777.9 1213.7,776.6 1214.2,774.5 1214.6,776.6 1215.1,776.6 1215.5,775.1 1216.0,775.4 1216.4,775.1 1217.0,774.8 1217.3,773.6 1217.8,775.3 1218.2,773.8 1218.7,776.9 1219.1,775.0 1219.6,776.8 1220.0,775.9 1220.5,777.4 1220.9,777.1 1221.3,778.1 1221.8,777.0 1222.2,776.3 1222.7,777.8 1223.2,777.8 1223.6,776.8 1224.1,777.6 1224.5,776.7 1225.0,778.5 1225.4,778.1 1225.8,778.5 1226.3,781.0 1226.8,778.6 1227.2,778.9 1227.7,779.1 1228.1,778.4 1228.6,778.0 1229.0,779.4 1229.5,779.6 1229.9,775.8 1230.3,778.4 1230.8,778.3 1231.2,778.1 1231.7,779.8 1232.2,778.1 1232.6,779.4 1233.1,778.1 1233.5,778.3 1234.0,779.3 1234.4,778.0 1234.8,778.5 1235.3,777.6 1235.8,777.8 1236.2,779.4 1236.7,779.2 1237.1,777.6 1237.6,777.6 1238.0,781.1 1238.5,778.1 1238.9,777.9 1239.3,779.2 1239.8,778.0 1240.2,778.4 1240.7,779.6 1241.2,779.7 1241.6,778.5 1242.1,780.0 1242.5,778.6 1243.0,778.5 1243.4,778.7 1243.8,778.4 1244.3,779.2 1244.8,779.0 1245.2,778.0 1245.7,778.9 1246.1,778.2 1246.6,778.2 1247.0,778.6 1247.5,779.6 1247.9,779.0 1248.3,779.9 1248.8,780.1 1249.2,778.6 1249.7,778.1 1250.2,777.9 1250.6,778.8 1251.1,779.2 1251.5,779.8 1252.0,776.9 1252.4,778.7 1252.8,778.5 1253.3,779.4 1253.8,776.9 1254.2,776.3 1254.7,774.7 1255.0,776.1 1255.6,775.2 1256.0,775.5 1256.5,776.0 1256.9,775.8 1257.3,777.4 1257.8,778.1 1258.2,778.6 1258.7,777.9 1259.2,778.9 1259.6,778.8 1260.1,776.3 1260.5,777.2 1261.0,775.9 1261.4,775.3 1261.8,774.5 1262.3,769.8 1262.8,762.0 1263.2,748.5 1263.8,733.9 1264.1,737.5 1264.6,751.5 1265.0,764.4 1265.5,772.4 1265.9,774.6 1266.3,777.1 1266.8,777.0 1267.2,778.6 1267.7,779.1 1268.2,779.6 1268.6,778.1 1269.1,777.1 1269.5,776.9 1270.0,778.2 1270.4,777.2 1270.8,777.0 1271.3,778.1 1271.8,777.5 1272.2,778.8 1272.7,779.6 1273.1,777.4 1273.6,777.4 1274.0,775.1 1274.5,775.9 1274.9,774.5 1275.3,773.5 1276.0,774.1 1276.2,775.5 1276.7,773.1 1277.2,774.2 1277.6,776.0 1278.1,776.9 1278.5,777.6 1279.0,777.9 1279.4,777.4 1279.8,779.1 1280.3,778.8 1280.8,777.5 1281.2,780.3 1281.7,778.6 1282.1,779.8 1282.6,777.8 1283.0,778.0 1283.5,778.6 1283.9,778.5 1284.3,780.0 1284.8,777.7 1285.2,779.3 1285.7,778.3 1286.2,779.6 1286.6,779.4 1287.1,778.7 1287.5,781.1 1288.0,779.2 1288.4,780.2 1288.8,778.1 1289.3,779.1 1289.8,779.3 1290.2,779.4 1290.7,779.0 1291.1,778.6 1291.6,776.7 1292.0,778.8 1292.5,778.5 1292.9,779.1 1293.3,780.0 1293.8,781.2 1294.2,779.8 1294.7,780.2 1295.2,779.9 1295.6,780.0 1296.1,779.8 1296.5,779.1 1297.0,779.1 1297.4,779.6 1297.8,780.9 1298.3,780.0 1298.8,780.7 1299.2,778.3 1299.7,779.6 1300.1,779.7 1300.6,779.8 1301.0,778.2 1301.5,777.8 1301.9,777.6 1302.3,779.0 1302.8,781.3 1303.2,779.5 1303.7,778.3 1304.2,779.6 1304.6,779.1 1305.1,779.4 1305.5,778.8 1306.0,778.1 1306.4,778.5 1306.8,779.2 1307.3,778.5 1307.8,778.6 1308.2,776.0 1308.7,777.1 1309.2,775.9 1309.6,776.2 1310.0,777.6 1310.5,777.2 1310.9,778.2 1311.3,779.1 1311.8,779.4 1312.2,779.8 1312.7,780.3 1313.2,779.8 1313.6,779.0 1314.1,781.4 1314.5,779.4 1315.0,779.8 1315.4,778.9 1315.8,777.7 1316.3,778.9 1316.8,779.6 1317.2,779.9 1317.7,779.5 1318.1,780.2 1318.6,780.3 1319.0,780.3 1319.5,779.5 1319.9,779.6 1320.3,779.3 1320.8,778.8 1321.2,780.6 1321.7,778.5 1322.2,779.4 1322.6,779.6 1323.1,777.7 1323.5,779.9 1324.0,778.9 1324.4,779.2 1324.8,778.5 1325.3,777.2 1325.8,778.1 1326.2,777.5 1326.7,777.6 1327.1,776.6 1327.6,774.5 1328.0,775.6 1328.5,776.4 1328.9,776.8 1329.3,777.2 1329.8,776.8 1330.2,778.3 1330.7,778.0 1331.2,780.9 1331.6,778.7 1332.1,778.2 1332.5,778.8 1333.0,780.2 1333.4,778.7 1333.8,777.1 1334.3,780.1 1334.8,779.0 1335.2,778.2 1335.7,778.9 1336.1,777.3 1336.6,776.7 1337.0,777.9 1337.5,776.3 1337.9,776.6 1338.3,775.7 1338.8,775.9 1339.2,775.0 1339.7,773.1 1340.0,774.6 1340.6,774.4 1341.1,775.8 1341.5,775.7 1342.0,777.2 1342.4,776.4 1342.8,775.6 1343.3,777.4 1343.8,778.4 1344.2,778.1 1344.7,778.3 1345.1,780.1 1345.6,779.0 1346.0,780.1 1346.5,779.5 1346.9,778.4 1347.3,778.9 1347.8,779.4 1348.2,779.9 1348.7,779.1 1349.2,778.7 1349.6,779.0 1350.1,779.4 1350.5,779.2 1351.0,779.4 1351.4,781.2 1351.8,780.1 1352.3,779.3 1352.8,779.9 1353.2,781.1 1353.7,780.4 1354.1,779.9 1354.6,778.9 1355.0,778.7 1355.5,779.7 1355.9,779.9 1356.3,778.8 1356.8,779.0 1357.2,780.0 1357.7,778.4 1358.2,778.7 1358.6,780.0 1359.1,780.4 1359.5,780.3 1360.0,780.8 1360.4,781.2 1360.8,780.7 1361.3,779.9 1361.8,781.6 1362.2,781.3 1362.7,780.8 1363.1,779.5 1363.6,780.4 1364.0,778.6 1364.5,779.9 1364.9,778.3 1365.3,779.8 1365.8,780.9 1366.2,780.1 1366.7,781.3 1367.2,780.1 1367.6,780.2 1368.1,779.9 1368.5,780.5 1369.0,780.1 1369.4,781.0 1369.8,781.4 1370.3,780.5 1370.8,779.4 1371.2,780.6 1371.7,781.2 1372.1,780.7 1372.6,780.4 1373.0,780.9 1373.5,781.2 1373.9,778.3 1374.3,781.3 1374.8,780.8 1375.2,780.6 1375.7,779.8 1376.2,780.4 1376.6,780.7 1377.1,779.2 1377.5,780.8 1378.0,780.3 1378.4,781.3 1378.8,780.8 1379.3,780.1 1379.8,780.3 1380.2,780.7 1380.7,780.4 1381.1,780.7 1381.6,779.8 1382.0,779.4 1382.5,779.9 1382.9,779.3 1383.3,779.7 1383.8,780.6 1384.2,779.1 1384.7,779.4 1385.2,780.8 1385.6,779.9 1386.1,780.3 1386.5,779.4 1387.0,779.6 1387.4,780.1 1387.8,781.5 1388.3,780.6 1388.8,779.1 1389.2,780.6 1389.7,781.0 1390.1,780.8 1390.5,779.4 1391.0,780.3 1391.5,781.8 1391.9,779.6 1392.4,780.5 1392.8,779.8 1393.2,779.4 1393.7,780.0 1394.2,781.0 1394.6,781.1 1395.0,779.6 1395.5,779.9 1396.0,779.6 1396.4,778.7 1396.9,780.6 1397.3,781.2 1397.8,781.1 1398.2,779.7 1398.7,780.9 1399.1,780.6 1399.5,779.5 1400.0,779.5 1400.5,778.9 1400.9,778.6 1401.4,778.2 1401.8,773.8 1402.2,769.9 1402.7,767.6 1403.1,765.4 1403.6,766.3 1404.0,770.7 1404.5,774.2 1405.0,776.5 1405.4,778.3 1405.9,779.2 1406.3,778.5 1406.8,778.6 1407.2,777.7 1407.7,778.4 1408.1,777.8 1408.5,775.0 1409.0,770.7 1409.5,763.0 1409.9,744.1 1410.4,719.0 1410.8,706.5 1411.2,719.5 1411.7,744.4 1412.2,761.4 1412.6,771.2 1413.0,775.1 1413.5,777.6 1414.0,779.0 1414.4,777.7 1414.9,778.8 1415.3,779.2 1415.8,779.1 1416.2,778.9 1416.7,780.4 1417.1,780.0 1417.5,780.5 1418.0,781.1 1418.5,779.9 1418.9,780.6 1419.4,780.0 1419.8,780.2 1420.2,780.5 1420.7,780.2 1421.2,779.4 1421.6,781.4 1422.0,780.5 1422.5,779.7 1423.0,779.0 1423.4,780.5 1423.9,780.9 1424.3,781.2 1424.8,781.3 1425.2,780.3 1425.7,781.0 1426.1,779.5 1426.5,780.7 1427.0,781.2 1427.5,780.2 1427.9,780.5 1428.4,780.7 1428.8,780.7 1429.2,781.6 1429.7,779.9 1430.2,781.5 1430.6,779.8 1431.0,780.2 1431.5,780.1 1432.0,780.6 1432.4,780.3 1432.9,781.0 1433.3,780.7 1433.8,782.1 1434.2,780.9 1434.7,780.5 1435.1,780.9 1435.5,781.1 1436.0,780.6 1436.5,779.9 1436.9,780.2 1437.4,780.8 1437.8,781.2 1438.2,781.0 1438.7,780.6 1439.2,781.1 1439.6,780.4 1440.0,780.9 1440.5,781.7 1441.0,781.5 1441.4,781.6 1441.9,780.5 1442.3,780.9 1442.8,780.1 1443.2,781.3 1443.7,780.5 1444.1,779.9 1444.5,780.4 1445.0,780.9 1445.5,779.3 1445.9,779.8 1446.4,781.4 1446.8,780.8 1447.2,780.7 1447.7,779.7 1448.2,781.8 1448.6,781.4 1449.0,781.2 1449.5,780.0 1450.0,781.2 1450.4,781.5 1450.9,780.6 1451.3,780.6 1451.8,780.5 1452.2,781.2 1452.7,780.6 1453.1,780.6 1453.5,779.9 1454.0,779.7 1454.5,781.4 1454.9,781.8 1455.4,781.4 1455.8,781.7 1456.2,780.5 1456.7,780.8 1457.2,781.1 1457.6,780.7 1458.0,781.9 1458.5,780.0 1459.0,780.5 1459.4,780.6 1459.9,780.4 1460.3,781.4 1460.8,779.6 1461.2,781.6 1461.7,781.4 1462.1,781.0 1462.5,781.7 1463.0,782.3 1463.5,781.0 1463.9,781.3 1464.4,781.1 1464.8,781.2 1465.2,780.5 1465.7,780.4 1466.2,781.2 1466.6,780.5 1467.0,781.4 1467.5,781.4 1468.0,780.6 1468.4,781.1 1468.9,780.9 1469.3,780.8 1469.8,781.6 1470.2,780.9 1470.7,781.0 1471.1,779.6 1471.5,781.2 1472.0,779.9 1472.5,780.5 1472.9,781.7 1473.4,781.5 1473.8,779.4 1474.2,777.8 1474.7,777.9 1475.2,778.4 1475.6,779.9 1476.0,779.5 1476.5,781.4 1477.0,781.7 1477.4,779.9 1477.9,780.4 1478.3,780.4 1478.8,781.3 1479.2,779.7 1479.7,781.0 1480.1,780.8 1480.5,780.4 1481.0,781.4 1481.5,779.7 1481.9,780.1 1482.4,780.5 1482.8,781.4 1483.2,780.7 1483.7,780.4 1484.2,781.3 1484.6,780.7 1485.0,780.6 1485.5,780.8 1486.0,781.2 1486.4,782.7 1486.9,780.3 1487.3,781.2 1487.8,780.9 1488.2,780.8 1488.7,781.9 1489.1,781.5 1489.5,781.4 1490.0,780.7 1490.5,780.5 1490.9,781.2 1491.4,780.8 1491.8,780.7 1492.2,781.4 1492.7,780.3 1493.2,780.6 1493.6,781.5 1494.0,781.0 1494.5,781.5 1495.0,780.5 1495.4,781.5 1495.9,780.6 1496.3,781.9 1496.8,781.5 1497.2,781.3 1497.7,782.0 1498.1,781.3 1498.5,780.7 1499.0,782.0 1499.5,781.3 1499.9,781.8 1500.4,781.2 1500.8,781.8 1501.2,780.5 1501.7,780.3 1502.2,780.2 1502.6,781.5 1503.0,779.9 1503.5,780.0 1504.0,780.2 1504.4,781.2 1504.9,781.4 1505.3,780.6 1505.8,781.6 1506.2,781.3 1506.7,781.8 1507.1,781.7 1507.5,780.7 1508.0,781.2 1508.5,781.0 1508.9,781.4 1509.4,781.2 1509.8,781.1 1510.2,781.5 1510.7,781.1 1511.2,781.5 1511.6,781.1 1512.0,781.0 1512.5,781.7 1513.0,781.7 1513.4,781.9 1513.9,781.5 1514.3,781.0 1514.8,781.2 1515.2,781.2 1515.7,780.0 1516.1,780.4 1516.5,782.0 1517.0,781.1 1517.5,779.3 1517.9,781.0 1518.4,781.2 1518.8,780.3 1519.2,782.5 1519.7,781.8 1520.2,781.6 1520.6,781.0 1521.0,781.4 1521.5,781.6 1522.0,781.4 1522.4,780.7 1522.9,781.2 1523.3,781.2 1523.8,781.3 1524.2,780.4 1524.7,781.2 1525.1,781.1 1525.5,781.2 1526.0,781.2 1526.5,780.2 1526.9,781.6 1527.4,781.5 1527.8,780.2 1528.2,781.0 1528.7,780.5 1529.2,780.8 1529.6,781.7 1530.0,781.4 1530.5,782.3 1531.0,781.1 1531.4,780.4 1531.9,781.1 1532.3,779.5 1532.8,782.1 1533.2,781.2 1533.7,781.3 1534.1,781.1 1534.5,780.5 1535.0,780.9 1535.5,780.5 1535.9,780.7 1536.4,781.2 1536.8,780.2 1537.2,782.0 1537.7,780.3 1538.2,781.5 1538.6,780.5 1539.0,780.1 1539.5,781.1 1540.0,781.0 1540.4,780.7 1540.9,780.7 1541.3,780.3 1541.8,780.9 1542.2,780.1 1542.7,780.1 1543.1,780.0 1543.5,777.4 1544.0,776.2 1544.5,774.3 1545.0,773.6 1545.4,773.3 1545.8,775.6 1546.2,777.6 1546.7,778.8 1547.2,778.8 1547.6,780.7 1548.0,780.9 1548.5,780.7 1549.0,780.1 1549.4,780.2 1549.9,782.0 1550.3,781.9 1550.8,781.2 1551.2,780.3 1551.7,781.7 1552.1,781.0 1552.5,781.9 1553.0,780.6 1553.5,781.2 1553.9,780.8 1554.4,781.4 1554.8,780.6 1555.2,781.5 1555.7,780.7 1556.2,780.4 1556.6,781.3 1557.0,781.1 1557.5,779.7 1558.0,780.9 1558.4,781.0 1558.9,781.1 1559.3,782.2 1559.8,780.6 1560.2,781.0 1560.7,779.9 1561.1,780.1 1561.5,780.6 1562.0,780.9 1562.5,780.9 1562.9,781.4 1563.4,781.4 1563.8,781.6 1564.2,780.9 1564.7,781.3 1565.2,780.5 1565.6,781.2 1566.0,781.3 1566.5,780.7 1567.0,779.0 1567.4,780.6 1567.9,782.6 1568.3,780.9 1568.8,780.6 1569.2,781.1 1569.7,781.7 1570.1,781.2 1570.5,780.9 1571.0,780.2 1571.5,780.8 1571.9,780.2 1572.4,781.2 1572.8,781.9 1573.2,781.6 1573.7,780.6 1574.2,780.4 1574.6,780.1 1575.0,781.3 1575.5,781.3 1576.0,781.5 1576.4,781.2 1576.9,780.2 1577.3,779.8 1577.8,781.7 1578.2,780.5 1578.7,782.2 1579.1,779.7 1579.5,780.3 1580.0,780.4 1580.5,781.1 1580.9,781.4 1581.4,780.6 1581.8,781.4 1582.2,780.2 1582.7,780.7 1583.2,780.2 1583.6,780.6 1584.0,780.6 1584.5,781.2 1585.0,783.1 1585.4,780.1 1585.9,780.9 1586.3,781.4 1586.8,781.0 1587.2,781.9 1587.7,780.3 1588.1,781.5 1588.5,780.5 1589.0,781.5 1589.5,781.1 1589.9,781.1 1590.4,780.6 1590.8,779.8 1591.2,780.3 1591.7,781.4 1592.2,780.8 1592.6,781.4 1593.0,780.2 1593.5,781.4 1594.0,781.6 1594.4,779.6 1594.9,781.2 1595.3,782.2 1595.8,780.5 1596.2,781.6 1596.7,781.0 1597.1,781.5 1597.5,780.7 1598.0,780.5 1598.5,780.7 1598.9,780.8 1599.4,780.6 1599.8,780.4 1600.2,781.7 1600.7,780.6 1601.2,780.2 1601.6,780.4 1602.0,781.3 1602.5,779.6 1603.0,781.3 1603.4,781.4 1603.9,781.8 1604.3,780.7 1604.8,780.5 1605.2,781.1 1605.7,781.1 1606.1,781.8 1606.5,781.0 1607.0,780.7 1607.5,780.1 1607.9,780.8 1608.4,781.0 1608.8,781.7 1609.2,781.0 1609.7,781.8 1610.2,781.7 1610.6,780.5 1611.0,780.2 1611.5,780.6 1612.0,780.8 1612.4,780.4 1612.9,781.4 1613.3,781.3 1613.8,781.6 1614.2,781.0 1614.7,780.6 1615.1,781.1 1615.5,780.2 1616.0,780.8 1616.5,780.0 1616.9,780.7 1617.4,777.2 1617.8,777.0 1618.2,774.3 1618.5,773.2 1619.2,776.4 1619.6,778.8 1620.0,780.7 1620.5,781.5 1621.0,780.7"/>
<polyline fill="none" stroke="#000" stroke-width="3.20" stroke-linejoin="round" stroke-linecap="square" shape-rendering="crispEdges" points="365.0,1314.0 365.4,1310.7 365.9,1310.4 366.4,1306.9 366.8,1311.1 367.2,1310.6 367.7,1310.3 368.1,1311.6 368.6,1311.8 369.1,1309.4 369.5,1309.7 369.9,1310.3 370.4,1312.2 370.9,1312.0 371.3,1308.9 371.8,1309.2 372.2,1312.1 372.6,1313.3 373.1,1310.4 373.6,1308.7 374.0,1310.4 374.4,1306.7 375.0,1306.1 375.4,1309.1 375.8,1309.0 376.2,1309.5 376.7,1311.4 377.1,1309.6 377.6,1310.6 378.1,1310.1 378.5,1310.7 378.9,1310.3 379.4,1310.8 379.9,1310.5 380.3,1311.3 380.8,1311.2 381.2,1311.6 381.6,1313.4 382.1,1308.7 382.6,1313.2 383.0,1310.8 383.4,1309.2 383.9,1310.9 384.4,1311.3 384.8,1312.9 385.2,1309.5 385.7,1311.5 386.1,1311.4 386.6,1308.5 387.1,1309.3 387.5,1312.1 387.9,1312.3 388.4,1312.9 388.9,1312.0 389.3,1311.8 389.8,1311.3 390.2,1313.1 390.6,1309.8 391.1,1310.9 391.6,1311.7 392.0,1308.5 392.4,1313.1 392.9,1309.7 393.4,1310.8 393.8,1314.3 394.2,1309.4 394.7,1309.5 395.1,1312.3 395.6,1307.0 396.1,1306.5 396.5,1306.2 396.9,1304.6 397.2,1303.6 397.9,1305.7 398.3,1309.2 398.8,1310.3 399.2,1310.7 399.6,1309.3 400.1,1309.5 400.6,1307.8 401.0,1312.0 401.4,1308.1 401.9,1312.4 402.4,1314.0 402.8,1309.4 403.2,1310.0 403.7,1310.4 404.1,1312.5 404.6,1309.8 405.1,1311.0 405.5,1310.3 405.9,1310.8 406.4,1313.3 406.9,1309.7 407.3,1311.3 407.8,1311.6 408.2,1312.6 408.6,1309.2 409.1,1313.0 409.6,1311.9 410.0,1312.6 410.4,1311.3 410.9,1308.6 411.4,1310.2 411.8,1312.5 412.2,1311.3 412.7,1311.2 413.1,1314.1 413.6,1314.8 414.1,1311.2 414.5,1314.3 414.9,1308.1 415.4,1308.0 415.9,1312.6 416.3,1310.8 416.8,1312.2 417.2,1312.1 417.6,1311.1 418.1,1312.3 418.6,1311.5 419.0,1308.8 419.4,1311.6 419.9,1311.5 420.4,1314.2 420.8,1309.4 421.2,1311.3 421.7,1310.6 422.1,1311.0 422.6,1313.9 423.1,1311.8 423.5,1310.5 423.9,1311.5 424.4,1312.4 424.9,1309.6 425.3,1310.8 425.8,1313.6 426.2,1312.5 426.6,1311.1 427.1,1310.3 427.6,1310.8 428.0,1308.5 428.4,1312.5 428.9,1311.5 429.4,1311.0 429.8,1308.6 430.2,1309.1 430.7,1310.4 431.1,1308.4 431.6,1304.7 432.1,1303.4 432.5,1301.1 432.9,1301.4 433.4,1304.4 433.9,1306.1 434.3,1306.8 434.8,1309.7 435.2,1307.1 435.6,1302.4 436.3,1296.4 436.6,1295.9 437.0,1302.5 437.4,1306.4 437.9,1309.5 438.4,1309.1 438.8,1311.6 439.2,1313.6 439.7,1313.4 440.1,1313.5 440.6,1311.1 441.1,1312.5 441.5,1310.5 441.9,1312.6 442.4,1310.5 442.9,1310.4 443.3,1310.1 443.8,1312.3 444.2,1311.6 444.6,1311.5 445.1,1309.4 445.6,1311.4 446.0,1308.9 446.4,1313.6 446.9,1311.0 447.4,1311.5 447.8,1311.0 448.2,1308.6 448.7,1309.0 449.1,1311.1 449.6,1313.5 450.1,1309.2 450.5,1309.7 450.9,1310.4 451.4,1307.2 451.9,1306.4 452.3,1307.4 452.8,1307.2 453.0,1307.1 453.6,1310.4 454.1,1308.7 454.6,1310.4 455.0,1313.0 455.4,1313.5 455.9,1308.4 456.4,1310.5 456.8,1313.0 457.2,1309.0 457.7,1309.7 458.1,1309.1 458.6,1309.0 459.1,1309.4 459.5,1311.5 459.9,1313.3 460.4,1313.7 460.9,1311.3 461.3,1308.1 461.8,1311.1 462.2,1310.7 462.6,1311.8 463.1,1311.0 463.6,1308.3 464.0,1311.8 464.4,1307.9 464.9,1310.0 465.4,1311.6 465.8,1311.6 466.2,1313.5 466.7,1307.2 467.1,1311.4 467.6,1311.8 468.1,1309.8 468.5,1310.8 468.9,1307.2 469.4,1308.8 469.9,1307.2 470.3,1303.3 470.8,1302.7 471.0,1303.6 471.6,1303.6 472.1,1307.8 472.6,1307.9 473.0,1310.9 473.4,1311.6 473.9,1310.4 474.4,1310.3 474.8,1309.3 475.2,1309.6 475.7,1309.7 476.1,1311.6 476.6,1309.6 477.1,1311.2 477.5,1311.4 477.9,1310.2 478.4,1310.7 478.9,1313.3 479.3,1313.4 479.8,1309.3 480.2,1309.8 480.6,1308.7 481.1,1307.7 481.6,1309.6 482.0,1306.6 482.4,1309.1 482.9,1311.0 483.4,1308.6 483.8,1309.8 484.2,1310.7 484.7,1312.5 485.1,1310.9 485.6,1312.1 486.1,1313.0 486.5,1313.0 486.9,1311.9 487.4,1309.9 487.9,1308.7 488.3,1313.0 488.8,1311.9 489.2,1309.7 489.6,1310.3 490.1,1310.4 490.6,1308.4 491.0,1311.4 491.4,1309.6 491.9,1310.1 492.4,1311.2 492.8,1309.0 493.2,1309.0 493.7,1308.0 494.0,1307.1 494.6,1307.9 495.1,1311.8 495.5,1309.5 496.0,1313.0 496.4,1309.3 496.9,1312.1 497.3,1311.3 497.8,1309.9 498.2,1306.8 498.6,1313.6 499.1,1309.2 499.6,1309.5 500.0,1311.3 500.5,1311.1 500.9,1311.5 501.4,1310.6 501.8,1308.6 502.2,1312.3 502.7,1309.5 503.1,1311.2 503.6,1311.7 504.1,1312.6 504.5,1310.3 505.0,1310.0 505.4,1310.0 505.9,1307.2 506.3,1308.8 506.8,1308.1 507.2,1307.4 507.6,1308.9 508.1,1307.2 508.6,1308.4 509.0,1304.6 509.5,1292.5 509.9,1285.0 510.4,1269.1 510.8,1258.2 511.2,1252.2 511.7,1261.3 512.1,1274.5 512.6,1288.7 513.0,1296.9 513.5,1299.3 514.0,1304.5 514.4,1306.6 514.9,1308.1 515.3,1307.8 515.8,1312.4 516.2,1309.8 516.6,1312.4 517.1,1310.0 517.5,1313.3 518.0,1308.8 518.5,1311.8 518.9,1308.8 519.4,1311.7 519.8,1313.6 520.2,1308.5 520.7,1309.8 521.1,1311.6 521.6,1310.9 522.0,1309.1 522.5,1313.2 523.0,1311.4 523.4,1313.4 523.9,1311.9 524.3,1309.5 524.8,1310.6 525.2,1313.6 525.6,1309.2 526.1,1310.7 526.5,1312.4 527.0,1313.1 527.5,1312.8 527.9,1309.1 528.4,1314.8 528.8,1311.3 529.2,1311.5 529.7,1311.5 530.1,1311.2 530.6,1310.0 531.0,1311.0 531.5,1313.7 532.0,1309.4 532.4,1307.7 532.9,1312.4 533.3,1312.1 533.8,1312.7 534.2,1314.4 534.6,1310.4 535.1,1311.9 535.5,1312.4 536.0,1313.6 536.5,1313.2 536.9,1310.3 537.4,1309.4 537.8,1311.2 538.2,1309.0 538.7,1313.4 539.1,1311.0 539.6,1311.0 540.0,1310.2 540.5,1314.1 541.0,1312.1 541.4,1311.0 541.9,1312.6 542.3,1311.5 542.8,1312.6 543.2,1313.7 543.6,1311.2 544.1,1312.4 544.5,1312.4 545.0,1313.4 545.5,1312.5 545.9,1311.6 546.4,1310.5 546.8,1312.0 547.2,1309.9 547.7,1312.6 548.1,1311.6 548.6,1312.4 549.0,1310.7 549.5,1310.2 550.0,1310.0 550.4,1313.2 550.9,1311.0 551.3,1311.0 551.8,1308.4 552.2,1311.2 552.6,1305.7 553.1,1313.3 553.5,1310.7 554.0,1311.0 554.5,1308.5 554.9,1308.9 555.4,1311.4 555.8,1309.9 556.2,1310.5 556.7,1311.4 557.1,1309.8 557.6,1304.7 558.0,1304.8 558.5,1302.5 559.0,1299.9 559.4,1293.6 559.9,1286.8 560.3,1278.4 560.8,1261.7 561.2,1232.2 561.8,1131.9 562.1,1190.7 562.5,1241.6 563.0,1267.1 563.5,1284.1 563.9,1292.3 564.4,1297.1 564.8,1303.8 565.2,1306.9 565.7,1309.1 566.1,1307.6 566.6,1309.0 567.0,1310.0 567.5,1310.2 568.0,1312.1 568.4,1309.9 568.9,1311.5 569.3,1307.5 569.8,1312.4 570.2,1313.9 570.6,1311.3 571.1,1313.1 571.5,1308.8 572.0,1311.0 572.5,1309.1 572.9,1312.1 573.4,1312.5 573.8,1309.5 574.2,1310.4 574.7,1310.8 575.1,1315.6 575.6,1311.6 576.0,1312.0 576.5,1312.3 577.0,1312.2 577.4,1311.4 577.9,1309.6 578.3,1310.6 578.8,1314.3 579.2,1312.0 579.6,1310.9 580.1,1309.2 580.5,1310.9 581.0,1310.2 581.5,1306.9 581.9,1304.6 582.4,1295.8 582.7,1294.2 583.2,1300.9 583.7,1306.0 584.1,1311.0 584.6,1310.3 585.0,1310.6 585.5,1312.3 586.0,1312.0 586.4,1313.7 586.9,1312.5 587.3,1311.8 587.8,1312.6 588.2,1313.0 588.6,1310.2 589.1,1311.7 589.5,1311.4 590.0,1313.9 590.5,1311.2 590.9,1313.7 591.4,1309.9 591.8,1311.8 592.2,1313.6 592.7,1311.4 593.1,1313.6 593.6,1308.5 594.0,1311.7 594.5,1311.8 595.0,1311.2 595.4,1308.7 595.9,1311.9 596.3,1306.6 596.8,1311.2 597.2,1309.2 597.6,1309.2 598.1,1305.7 598.5,1302.6 599.0,1301.7 599.5,1299.9 599.9,1299.9 600.4,1297.4 600.7,1297.6 601.2,1299.1 601.7,1301.9 602.1,1298.3 602.6,1302.7 603.0,1306.3 603.5,1307.9 604.0,1307.2 604.4,1308.7 604.9,1309.8 605.3,1310.7 605.8,1309.9 606.2,1310.0 606.6,1309.3 607.1,1310.4 607.5,1312.9 608.0,1308.3 608.5,1308.8 608.9,1304.8 609.4,1294.7 609.7,1291.4 610.2,1297.4 610.7,1307.4 611.1,1308.9 611.6,1308.7 612.0,1311.9 612.5,1314.6 613.0,1310.8 613.4,1312.6 613.9,1310.3 614.3,1310.5 614.8,1312.6 615.2,1311.6 615.6,1312.7 616.1,1313.7 616.5,1309.5 617.0,1309.9 617.5,1310.3 617.9,1311.9 618.4,1301.7 618.8,1288.0 619.4,1272.2 619.7,1281.0 620.1,1292.7 620.6,1321.5 621.0,1307.8 621.5,1309.1 622.0,1309.8 622.4,1301.1 622.9,1295.9 623.3,1294.6 623.7,1292.6 624.2,1291.8 624.7,1299.2 625.1,1306.2 625.5,1307.2 626.0,1310.8 626.5,1311.4 626.9,1312.7 627.4,1312.7 627.8,1312.6 628.2,1314.3 628.7,1311.5 629.2,1312.7 629.6,1314.4 630.0,1311.8 630.5,1312.1 631.0,1311.5 631.4,1311.3 631.9,1316.0 632.3,1313.6 632.8,1315.8 633.2,1314.0 633.7,1313.0 634.1,1312.4 634.5,1313.3 635.0,1312.8 635.5,1314.4 635.9,1311.5 636.4,1313.2 636.8,1313.6 637.2,1312.5 637.7,1312.5 638.2,1313.8 638.6,1313.8 639.0,1312.7 639.5,1312.8 640.0,1311.9 640.4,1313.7 640.9,1312.6 641.3,1310.2 641.8,1312.2 642.2,1313.6 642.7,1313.0 643.1,1311.1 643.5,1313.6 644.0,1313.3 644.5,1313.1 644.9,1314.4 645.4,1311.3 645.8,1312.4 646.2,1310.5 646.7,1311.2 647.2,1308.6 647.6,1302.4 648.0,1296.9 648.4,1293.4 649.0,1298.7 649.4,1301.3 649.9,1310.1 650.3,1309.5 650.8,1304.7 651.2,1301.3 651.7,1305.6 652.1,1300.2 652.7,1300.1 653.0,1298.4 653.5,1302.1 653.9,1302.9 654.4,1306.8 654.8,1306.7 655.2,1310.5 655.7,1307.4 656.2,1310.7 656.6,1308.5 657.0,1309.0 657.5,1305.1 658.0,1304.1 658.4,1307.7 658.9,1302.9 659.3,1302.8 659.8,1300.9 660.2,1297.2 660.7,1295.3 661.1,1287.4 661.5,1279.9 662.0,1271.2 662.5,1248.8 662.9,1217.2 663.4,1130.2 663.8,1169.9 664.2,1160.3 664.7,1115.1 665.2,1021.6 665.7,819.9 666.0,953.4 666.5,1094.2 667.0,1162.6 667.4,1205.5 667.9,1231.9 668.3,1252.8 668.8,1266.0 669.2,1277.3 669.7,1282.3 670.1,1286.1 670.5,1284.0 671.2,1283.1 671.5,1284.7 671.9,1291.3 672.4,1294.1 672.8,1293.5 673.2,1291.2 673.5,1291.6 674.2,1296.8 674.6,1296.0 675.0,1303.5 675.5,1297.9 676.0,1300.2 676.4,1297.9 676.9,1296.4 677.3,1291.0 677.8,1283.8 678.2,1274.2 678.7,1260.0 679.1,1233.0 679.6,1176.0 680.0,1215.6 680.5,1252.8 680.9,1271.6 681.4,1286.8 681.8,1287.3 682.2,1292.7 682.7,1297.3 683.2,1298.8 683.6,1297.1 684.0,1300.7 684.5,1296.1 685.0,1295.9 685.4,1295.3 685.9,1286.4 686.3,1281.3 686.8,1274.9 687.2,1258.0 687.7,1236.1 688.1,1202.8 688.5,1136.4 688.9,1067.2 689.5,1171.2 689.9,1219.1 690.4,1246.3 690.8,1267.1 691.2,1275.9 691.7,1281.8 692.2,1286.0 692.6,1285.0 693.0,1287.6 693.5,1294.5 694.0,1299.6 694.4,1301.2 694.9,1306.5 695.3,1309.3 695.8,1308.7 696.2,1309.3 696.7,1306.9 697.1,1308.9 697.5,1306.2 698.0,1310.6 698.5,1307.5 698.9,1307.5 699.4,1300.1 699.8,1298.3 700.2,1295.1 700.7,1297.4 701.2,1303.6 701.6,1307.2 702.0,1308.8 702.5,1307.4 703.0,1312.7 703.4,1311.8 703.9,1312.8 704.3,1312.8 704.8,1310.5 705.2,1311.7 705.7,1315.4 706.1,1309.7 706.5,1311.6 707.0,1310.0 707.5,1313.6 707.9,1310.8 708.4,1308.6 708.8,1308.9 709.2,1307.0 709.7,1304.6 710.2,1302.1 710.6,1302.4 711.0,1296.8 711.5,1291.7 712.0,1280.6 712.4,1271.6 712.9,1264.8 713.3,1258.1 713.8,1260.0 714.2,1272.7 714.7,1285.7 715.1,1289.9 715.5,1295.8 716.0,1302.9 716.5,1305.6 716.9,1309.1 717.4,1307.0 717.8,1308.7 718.2,1308.7 718.7,1306.5 719.2,1306.1 719.6,1308.6 720.0,1307.7 720.5,1304.2 721.0,1306.3 721.4,1303.4 721.9,1300.5 722.3,1298.6 722.8,1296.4 723.2,1295.7 723.6,1294.2 724.1,1294.9 724.5,1292.8 725.0,1297.7 725.5,1298.5 725.9,1299.4 726.4,1301.7 726.8,1291.5 727.4,1283.9 727.7,1288.0 728.2,1299.4 728.6,1306.5 729.0,1313.9 729.5,1313.3 730.0,1310.8 730.4,1313.2 730.9,1314.3 731.3,1309.1 731.8,1307.9 732.2,1306.3 732.7,1302.1 733.1,1303.4 733.5,1310.4 734.0,1311.2 734.5,1312.7 734.9,1315.4 735.4,1311.9 735.8,1314.2 736.2,1308.3 736.7,1304.1 737.2,1300.3 737.6,1297.2 738.1,1293.6 738.5,1295.7 739.0,1296.8 739.4,1302.1 739.9,1307.1 740.3,1311.3 740.8,1314.0 741.2,1308.6 741.7,1312.7 742.1,1312.5 742.5,1313.3 743.0,1313.9 743.5,1312.3 743.9,1311.6 744.4,1315.5 744.8,1315.2 745.2,1313.3 745.7,1313.9 746.2,1313.0 746.6,1311.8 747.0,1315.2 747.5,1313.1 748.0,1312.4 748.4,1313.3 748.9,1317.0 749.3,1315.0 749.8,1314.7 750.2,1314.5 750.7,1315.8 751.1,1315.6 751.5,1312.3 752.0,1314.0 752.5,1313.3 752.9,1314.7 753.4,1314.3 753.8,1311.1 754.2,1316.2 754.7,1314.7 755.2,1311.4 755.6,1316.0 756.0,1314.3 756.5,1314.7 757.0,1313.7 757.4,1313.6 757.9,1312.0 758.3,1309.4 758.8,1310.2 759.2,1310.3 759.7,1308.6 760.1,1308.0 760.5,1305.1 761.0,1300.0 761.5,1303.6 762.0,1301.9 762.4,1299.9 762.8,1302.5 763.2,1302.3 763.7,1306.8 764.2,1306.4 764.6,1312.6 765.0,1310.4 765.5,1310.9 766.0,1311.5 766.4,1309.6 766.9,1312.0 767.3,1312.3 767.8,1312.9 768.2,1309.3 768.7,1312.0 769.1,1312.3 769.5,1307.1 770.0,1305.1 770.6,1303.6 770.9,1302.7 771.4,1305.5 771.8,1310.5 772.2,1311.6 772.7,1311.0 773.2,1311.1 773.6,1318.3 774.0,1315.6 774.5,1312.5 775.0,1315.5 775.4,1316.4 775.9,1315.6 776.3,1312.4 776.8,1318.4 777.2,1316.5 777.7,1315.2 778.1,1316.5 778.5,1314.9 779.0,1314.4 779.5,1315.8 779.9,1310.2 780.4,1314.1 781.0,1311.6 781.2,1313.0 781.7,1314.1 782.2,1316.3 782.6,1317.0 783.0,1316.7 783.5,1315.0 784.0,1316.9 784.4,1315.1 784.9,1314.4 785.3,1316.7 785.8,1316.6 786.2,1318.0 786.7,1312.5 787.1,1317.0 787.5,1317.1 788.0,1316.2 788.5,1318.4 788.9,1314.5 789.4,1316.4 789.8,1315.1 790.2,1315.6 790.7,1313.9 791.2,1315.1 791.6,1316.2 792.0,1315.0 792.5,1314.9 793.0,1312.6 793.4,1315.6 793.9,1310.5 794.3,1309.3 794.8,1306.1 795.2,1298.3 795.7,1290.1 796.1,1276.6 796.5,1265.3 797.0,1252.0 797.4,1247.1 797.9,1251.9 798.4,1266.4 798.8,1281.1 799.2,1292.2 799.7,1299.0 800.2,1305.7 800.6,1309.9 801.0,1312.4 801.5,1311.4 802.0,1317.5 802.4,1314.9 802.9,1315.6 803.3,1315.0 803.8,1315.9 804.2,1319.3 804.7,1314.9 805.1,1315.7 805.5,1315.0 806.0,1315.9 806.5,1319.4 806.9,1315.9 807.4,1316.3 807.8,1314.1 808.2,1316.5 808.7,1317.5 809.2,1316.3 809.6,1316.4 810.0,1318.3 810.5,1317.7 811.0,1316.5 811.4,1315.2 811.9,1313.7 812.3,1318.4 812.8,1312.6 813.2,1315.4 813.7,1313.1 814.1,1311.3 814.5,1312.8 815.0,1309.1 815.5,1311.3 815.9,1306.8 816.4,1308.7 816.7,1307.8 817.2,1306.6 817.7,1312.3 818.2,1311.3 818.6,1307.5 819.0,1314.5 819.5,1316.4 820.0,1313.9 820.4,1314.9 820.9,1316.6 821.3,1313.5 821.8,1317.3 822.2,1318.9 822.7,1316.8 823.1,1319.7 823.5,1321.7 824.0,1315.1 824.5,1315.4 824.9,1317.3 825.4,1319.5 825.8,1319.1 826.2,1317.0 826.7,1316.6 827.2,1317.1 827.6,1320.8 828.0,1316.1 828.5,1316.1 829.0,1317.7 829.4,1314.7 829.9,1312.7 830.3,1313.9 830.8,1314.9 831.2,1314.1 831.7,1315.7 832.1,1318.7 832.5,1317.3 833.0,1318.8 833.5,1320.1 833.9,1320.4 834.4,1315.9 834.8,1318.1 835.2,1318.3 835.7,1318.9 836.2,1319.9 836.6,1320.3 837.0,1317.4 837.5,1315.9 838.0,1317.3 838.4,1314.8 838.9,1316.5 839.3,1310.8 839.8,1304.1 840.2,1294.4 840.7,1270.8 841.1,1228.6 841.6,1096.0 842.0,1213.9 842.5,1267.3 842.9,1290.6 843.4,1303.5 843.8,1309.0 844.2,1314.0 844.7,1315.4 845.2,1319.1 845.6,1317.1 846.0,1318.5 846.5,1319.4 847.0,1320.5 847.4,1318.1 847.9,1318.8 848.3,1317.2 848.8,1315.1 849.2,1316.9 849.7,1313.6 850.0,1312.1 850.5,1312.4 851.0,1317.4 851.5,1317.5 851.9,1317.9 852.4,1322.1 852.8,1319.6 853.2,1319.8 853.7,1321.3 854.2,1319.1 854.6,1320.0 855.0,1319.9 855.5,1320.4 856.0,1317.6 856.4,1318.6 856.9,1319.4 857.3,1322.3 857.8,1320.3 858.2,1319.6 858.7,1320.0 859.1,1319.3 859.5,1321.3 860.0,1321.3 860.5,1322.9 860.9,1321.7 861.4,1320.2 861.8,1323.3 862.2,1321.0 862.7,1322.2 863.2,1324.1 863.6,1323.9 864.0,1320.7 864.5,1321.7 865.0,1324.1 865.4,1323.5 865.9,1322.9 866.3,1323.4 866.8,1318.6 867.2,1321.6 867.7,1319.8 868.1,1321.1 868.5,1321.5 869.0,1322.9 869.5,1324.1 869.9,1323.5 870.4,1322.7 870.8,1321.7 871.2,1324.3 871.7,1322.6 872.2,1319.4 872.6,1322.1 873.0,1323.0 873.5,1320.6 874.0,1322.5 874.4,1324.5 874.9,1321.5 875.3,1321.7 875.8,1321.4 876.2,1319.5 876.7,1319.7 877.1,1318.2 877.6,1318.7 878.1,1318.9 878.5,1320.5 878.9,1319.3 879.4,1321.5 879.8,1318.8 880.2,1321.2 880.7,1322.5 881.1,1322.9 881.6,1320.9 882.1,1321.8 882.5,1322.2 883.0,1321.5 883.4,1321.4 883.9,1322.9 884.3,1320.1 884.8,1319.1 885.2,1321.2 885.6,1322.4 886.1,1318.2 886.6,1324.1 887.0,1322.0 887.5,1322.6 887.9,1320.2 888.4,1321.4 888.8,1324.2 889.2,1324.0 889.7,1321.6 890.1,1319.4 890.6,1318.5 891.1,1318.6 891.5,1311.7 892.0,1305.9 892.4,1300.3 892.9,1294.8 893.5,1288.0 893.8,1289.4 894.2,1294.7 894.6,1301.5 895.1,1307.9 895.6,1314.8 896.0,1317.7 896.5,1316.5 896.9,1322.6 897.4,1321.4 897.8,1321.6 898.2,1320.8 898.7,1321.1 899.1,1317.6 899.6,1321.4 900.1,1322.8 900.5,1322.9 901.0,1320.9 901.4,1318.2 901.9,1320.2 902.3,1321.6 902.8,1324.2 903.2,1319.5 903.6,1322.1 904.1,1323.0 904.6,1323.0 905.0,1321.8 905.5,1317.3 905.9,1322.6 906.4,1321.4 906.8,1321.1 907.2,1316.7 907.7,1313.7 908.1,1311.7 908.8,1304.4 909.1,1305.1 909.5,1308.7 910.0,1317.0 910.4,1315.9 910.9,1319.6 911.3,1322.0 911.8,1321.6 912.2,1323.3 912.6,1322.6 913.1,1324.3 913.6,1321.7 914.0,1321.8 914.5,1322.4 914.9,1318.9 915.4,1323.7 915.8,1319.3 916.2,1321.6 916.7,1320.6 917.1,1318.0 917.6,1314.4 918.1,1311.1 918.5,1311.4 919.0,1313.0 919.4,1313.6 919.9,1319.0 920.3,1317.7 920.8,1320.6 921.2,1319.8 921.6,1321.5 922.1,1320.1 922.6,1319.8 923.0,1316.0 923.5,1316.5 923.9,1315.8 924.4,1316.9 924.7,1314.6 925.2,1313.4 925.7,1319.5 926.1,1319.1 926.6,1321.6 927.1,1319.3 927.5,1316.1 928.0,1320.6 928.4,1320.3 928.9,1322.5 929.3,1319.5 929.8,1320.5 930.2,1319.5 930.6,1321.7 931.1,1319.4 931.6,1322.1 932.0,1318.7 932.5,1314.3 932.9,1305.6 933.4,1298.2 933.9,1292.4 934.2,1293.4 934.7,1304.4 935.1,1310.1 935.6,1317.9 936.1,1322.8 936.5,1323.3 937.0,1319.8 937.4,1323.9 937.9,1321.7 938.3,1321.7 938.8,1322.1 939.2,1320.7 939.6,1323.1 940.1,1321.6 940.6,1324.6 941.0,1323.3 941.5,1318.5 941.9,1321.2 942.4,1321.0 942.8,1321.5 943.2,1321.4 943.7,1322.7 944.1,1321.9 944.6,1320.1 945.1,1322.0 945.5,1321.6 946.0,1317.8 946.4,1315.1 946.9,1306.7 947.3,1296.3 947.9,1290.4 948.2,1292.3 948.6,1301.0 949.1,1309.0 949.6,1316.7 950.0,1320.7 950.5,1319.1 950.9,1319.8 951.4,1322.0 951.8,1323.2 952.2,1324.1 952.7,1323.9 953.1,1323.9 953.6,1321.5 954.1,1323.7 954.5,1322.1 955.0,1323.9 955.4,1324.7 955.9,1322.1 956.3,1322.8 956.8,1327.2 957.2,1321.9 957.6,1322.2 958.1,1321.0 958.6,1319.9 959.0,1322.9 959.5,1318.7 959.9,1317.0 960.4,1315.3 960.6,1316.4 961.2,1319.1 961.7,1318.8 962.1,1321.2 962.6,1324.5 963.1,1322.7 963.5,1323.4 964.0,1323.7 964.4,1325.6 964.9,1321.4 965.3,1322.7 965.8,1320.1 966.2,1323.7 966.6,1324.8 967.1,1323.1 967.6,1327.0 968.0,1325.4 968.5,1327.0 968.9,1324.1 969.4,1326.8 969.8,1323.1 970.2,1324.6 970.7,1324.1 971.1,1323.3 971.6,1326.6 972.1,1326.1 972.5,1322.9 973.0,1325.1 973.4,1324.2 973.9,1324.3 974.3,1325.1 974.8,1323.3 975.2,1324.4 975.6,1324.6 976.1,1323.2 976.6,1323.3 977.0,1325.5 977.5,1324.2 977.9,1328.0 978.4,1327.6 978.8,1323.0 979.2,1324.7 979.7,1320.9 980.1,1323.1 980.6,1322.7 981.1,1322.9 981.5,1320.7 982.0,1324.6 982.4,1324.4 982.9,1322.8 983.3,1324.0 983.8,1325.6 984.2,1326.8 984.6,1322.0 985.1,1326.7 985.6,1321.4 986.0,1322.8 986.5,1323.5 986.9,1326.7 987.4,1325.2 987.8,1325.1 988.2,1326.7 988.7,1324.6 989.1,1323.5 989.6,1326.6 990.1,1323.9 990.5,1322.2 991.0,1321.4 991.4,1324.5 991.9,1327.3 992.3,1325.5 992.8,1324.3 993.2,1326.2 993.6,1321.9 994.1,1325.0 994.6,1323.4 995.0,1326.5 995.5,1322.9 995.9,1325.6 996.4,1324.6 996.8,1324.3 997.2,1325.4 997.7,1324.1 998.1,1326.6 998.6,1323.9 999.1,1320.7 999.5,1326.6 1000.0,1326.4 1000.4,1325.0 1000.9,1326.5 1001.3,1325.3 1001.8,1322.8 1002.2,1320.8 1002.6,1322.3 1003.1,1323.5 1003.6,1324.6 1004.0,1321.2 1004.5,1321.6 1004.9,1324.8 1005.4,1319.9 1005.8,1317.6 1006.2,1313.0 1006.7,1309.1 1007.1,1287.8 1007.4,1265.0 1008.1,1307.9 1008.5,1315.5 1009.0,1320.6 1009.4,1321.5 1009.9,1323.7 1010.3,1324.1 1010.8,1324.6 1011.2,1321.9 1011.6,1323.7 1012.1,1323.5 1012.6,1323.2 1013.0,1324.2 1013.5,1327.2 1013.9,1325.8 1014.4,1324.5 1014.8,1324.9 1015.2,1326.6 1015.7,1322.5 1016.1,1325.1 1016.6,1327.1 1017.1,1327.3 1017.5,1325.9 1018.0,1325.3 1018.4,1321.6 1018.9,1323.3 1019.3,1324.4 1019.8,1325.0 1020.2,1325.0 1020.6,1320.8 1021.1,1323.5 1021.6,1324.8 1022.0,1323.1 1022.5,1323.9 1022.9,1325.0 1023.4,1324.6 1023.8,1324.3 1024.2,1325.1 1024.7,1325.6 1025.2,1323.3 1025.6,1321.9 1026.1,1322.2 1026.5,1322.1 1027.0,1322.1 1027.4,1318.7 1027.8,1318.0 1028.3,1316.0 1028.8,1314.5 1029.2,1308.2 1029.7,1301.5 1030.1,1298.3 1030.6,1294.6 1031.0,1296.4 1031.5,1302.2 1031.9,1306.6 1032.3,1311.6 1032.8,1316.7 1033.2,1317.7 1033.7,1320.6 1034.2,1318.4 1034.6,1321.6 1035.1,1324.8 1035.5,1321.6 1036.0,1321.5 1036.4,1319.9 1036.8,1317.8 1037.3,1319.1 1037.8,1317.9 1038.2,1320.0 1038.7,1318.1 1039.1,1320.9 1039.6,1321.5 1040.0,1322.1 1040.5,1325.3 1040.9,1323.0 1041.3,1323.2 1041.8,1328.4 1042.2,1324.5 1042.7,1324.4 1043.2,1325.5 1043.6,1323.3 1044.1,1325.4 1044.5,1323.1 1045.0,1324.2 1045.4,1324.1 1045.8,1327.0 1046.3,1325.9 1046.8,1327.8 1047.2,1327.6 1047.7,1324.0 1048.1,1325.8 1048.6,1324.4 1049.0,1324.1 1049.5,1326.8 1049.9,1327.2 1050.3,1325.2 1050.8,1325.5 1051.2,1325.3 1051.7,1325.3 1052.2,1325.1 1052.6,1322.7 1053.1,1324.6 1053.5,1321.8 1054.0,1319.9 1054.4,1320.3 1054.8,1319.9 1055.3,1319.0 1055.8,1320.0 1056.2,1321.0 1056.7,1320.8 1057.1,1323.5 1057.6,1324.1 1058.0,1324.8 1058.5,1323.6 1058.9,1327.5 1059.3,1326.2 1059.8,1326.1 1060.2,1325.3 1060.7,1324.8 1061.2,1326.7 1061.6,1323.3 1062.1,1324.6 1062.5,1324.9 1063.0,1326.2 1063.4,1324.9 1063.8,1327.5 1064.3,1322.7 1064.8,1327.7 1065.2,1325.8 1065.7,1326.8 1066.1,1324.6 1066.6,1326.9 1067.0,1324.9 1067.5,1325.7 1067.9,1323.1 1068.3,1326.1 1068.8,1325.5 1069.2,1322.4 1069.7,1325.0 1070.2,1324.6 1070.6,1326.1 1071.1,1323.7 1071.5,1324.7 1072.0,1326.0 1072.4,1322.4 1072.8,1326.0 1073.3,1323.1 1073.8,1322.0 1074.2,1319.9 1074.7,1319.0 1075.0,1321.6 1075.6,1321.0 1076.0,1321.1 1076.5,1324.1 1076.9,1323.9 1077.3,1323.6 1077.8,1321.6 1078.2,1321.3 1078.7,1325.8 1079.2,1324.6 1079.6,1324.4 1080.1,1327.7 1080.5,1324.2 1081.0,1325.3 1081.4,1327.8 1081.8,1325.3 1082.3,1323.1 1082.8,1321.8 1083.2,1323.3 1083.7,1317.0 1084.1,1315.2 1084.6,1306.8 1085.2,1260.4 1085.5,1285.1 1085.9,1305.9 1086.3,1316.6 1086.8,1319.5 1087.2,1320.5 1087.7,1323.4 1088.2,1323.8 1088.6,1323.0 1089.1,1323.7 1089.5,1322.3 1090.0,1322.7 1090.4,1324.6 1090.8,1320.5 1091.3,1322.8 1091.8,1320.9 1092.2,1316.5 1092.7,1312.0 1093.1,1298.1 1093.6,1279.6 1094.1,1268.4 1094.5,1274.7 1094.9,1286.1 1095.3,1302.1 1095.8,1308.4 1096.2,1309.9 1096.7,1309.1 1097.2,1301.1 1097.5,1301.0 1098.1,1303.3 1098.5,1311.2 1099.0,1317.2 1099.4,1316.5 1099.8,1324.5 1100.3,1325.9 1100.8,1320.3 1101.2,1322.3 1101.7,1325.4 1102.1,1324.8 1102.6,1326.0 1103.0,1323.1 1103.5,1324.3 1104.0,1321.6 1104.3,1322.7 1104.8,1322.7 1105.2,1323.8 1105.7,1322.6 1106.2,1325.0 1106.6,1327.8 1107.1,1325.0 1107.5,1325.7 1108.0,1326.3 1108.4,1324.7 1108.8,1326.5 1109.3,1327.0 1109.8,1325.9 1110.2,1323.6 1110.7,1328.5 1111.1,1326.4 1111.6,1326.3 1112.0,1326.0 1112.5,1325.5 1112.9,1324.0 1113.3,1326.3 1113.8,1326.6 1114.2,1327.8 1114.7,1328.7 1115.2,1325.4 1115.6,1328.7 1116.1,1326.6 1116.5,1327.3 1117.0,1325.0 1117.4,1326.9 1117.8,1325.1 1118.3,1327.4 1118.8,1324.7 1119.2,1326.5 1119.7,1325.9 1120.1,1327.0 1120.6,1326.9 1121.0,1326.7 1121.5,1325.8 1121.9,1327.7 1122.3,1327.3 1122.8,1325.4 1123.2,1327.6 1123.7,1325.6 1124.2,1326.6 1124.6,1326.4 1125.1,1326.3 1125.5,1327.6 1126.0,1323.9 1126.4,1328.2 1126.8,1323.9 1127.3,1328.1 1127.8,1327.1 1128.2,1324.1 1128.7,1326.6 1129.1,1325.4 1129.6,1323.9 1130.0,1326.4 1130.5,1324.0 1130.9,1317.8 1131.3,1311.7 1131.8,1304.4 1132.2,1309.0 1132.7,1319.1 1133.2,1321.4 1133.6,1325.9 1134.1,1327.1 1134.5,1326.3 1135.0,1326.3 1135.4,1327.0 1135.8,1326.8 1136.3,1325.5 1136.8,1321.6 1137.2,1325.9 1137.7,1324.6 1138.1,1328.0 1138.6,1326.0 1139.0,1327.0 1139.5,1327.7 1139.9,1328.1 1140.3,1325.5 1140.8,1329.7 1141.2,1328.0 1141.7,1327.6 1142.2,1325.5 1142.6,1329.5 1143.1,1327.7 1143.5,1328.3 1144.0,1326.4 1144.4,1329.4 1144.8,1328.8 1145.3,1326.7 1145.8,1329.5 1146.2,1325.4 1146.7,1328.0 1147.1,1327.6 1147.6,1327.7 1148.0,1325.8 1148.5,1326.2 1148.9,1328.0 1149.3,1328.1 1149.8,1326.6 1150.2,1326.3 1150.7,1325.9 1151.2,1328.3 1151.6,1326.2 1152.1,1325.6 1152.5,1323.5 1153.0,1323.0 1153.4,1322.7 1153.8,1319.5 1154.3,1319.4 1154.7,1319.0 1155.2,1319.0 1155.7,1322.0 1156.1,1324.2 1156.6,1323.0 1157.0,1326.6 1157.5,1322.2 1157.9,1328.2 1158.3,1323.4 1158.8,1324.6 1159.2,1322.7 1159.7,1321.7 1160.2,1318.2 1160.7,1317.8 1161.1,1316.4 1161.5,1321.3 1162.0,1322.1 1162.4,1324.6 1162.8,1326.4 1163.3,1324.2 1163.8,1325.2 1164.2,1325.1 1164.7,1326.0 1165.1,1326.3 1165.6,1327.0 1166.0,1326.3 1166.5,1325.7 1166.9,1326.4 1167.3,1326.8 1167.8,1326.2 1168.2,1326.5 1168.7,1320.6 1169.2,1316.8 1169.6,1307.3 1170.1,1300.2 1170.4,1298.4 1171.0,1305.9 1171.4,1312.0 1171.8,1319.6 1172.3,1322.9 1172.8,1325.1 1173.2,1325.6 1173.7,1325.1 1174.1,1323.2 1174.6,1324.2 1175.0,1326.6 1175.5,1326.0 1175.9,1328.6 1176.3,1325.9 1176.8,1326.4 1177.2,1323.1 1177.7,1321.6 1178.2,1322.4 1178.6,1321.6 1179.1,1322.7 1179.5,1323.0 1180.0,1325.1 1180.4,1326.3 1180.8,1326.7 1181.3,1326.5 1181.8,1325.4 1182.2,1325.3 1182.7,1326.1 1183.1,1326.6 1183.6,1325.3 1184.0,1328.7 1184.5,1327.6 1184.9,1326.3 1185.3,1327.8 1185.8,1329.7 1186.2,1327.2 1186.7,1327.2 1187.2,1328.2 1187.6,1325.4 1188.1,1326.3 1188.5,1326.1 1189.0,1327.9 1189.4,1325.1 1189.8,1327.4 1190.3,1326.5 1190.8,1326.7 1191.2,1326.4 1191.7,1328.7 1192.1,1326.1 1192.6,1325.7 1193.0,1327.4 1193.5,1326.4 1193.9,1327.6 1194.3,1327.0 1194.8,1327.1 1195.2,1327.1 1195.7,1325.2 1196.2,1324.9 1196.6,1329.3 1197.1,1325.8 1197.5,1327.7 1198.0,1325.9 1198.4,1327.0 1198.8,1326.8 1199.3,1328.7 1199.8,1326.9 1200.2,1325.5 1200.7,1325.6 1201.1,1327.5 1201.6,1328.1 1202.0,1329.3 1202.5,1329.4 1202.9,1325.6 1203.3,1327.0 1203.8,1325.9 1204.2,1327.5 1204.7,1328.0 1205.2,1325.2 1205.6,1328.1 1206.1,1327.9 1206.5,1326.9 1207.0,1326.6 1207.4,1328.9 1207.8,1327.0 1208.3,1326.1 1208.8,1327.3 1209.2,1328.3 1209.7,1327.9 1210.1,1325.2 1210.6,1325.8 1211.0,1326.8 1211.5,1327.4 1211.9,1327.4 1212.3,1325.9 1212.8,1328.2 1213.2,1327.7 1213.7,1325.6 1214.2,1326.2 1214.6,1327.1 1215.1,1325.6 1215.5,1327.2 1216.0,1327.4 1216.4,1326.7 1216.8,1327.8 1217.3,1329.0 1217.8,1326.5 1218.2,1327.6 1218.7,1326.6 1219.1,1328.5 1219.6,1328.2 1220.0,1326.8 1220.5,1326.0 1220.9,1327.0 1221.3,1325.8 1221.8,1324.1 1222.2,1323.8 1222.7,1324.0 1223.2,1325.7 1223.6,1324.3 1223.9,1323.1 1224.5,1324.3 1225.0,1325.3 1225.4,1326.0 1225.8,1324.1 1226.3,1326.3 1226.8,1326.8 1227.2,1327.0 1227.7,1327.2 1228.1,1324.5 1228.6,1327.2 1229.0,1325.8 1229.5,1328.1 1229.9,1326.7 1230.3,1327.0 1230.8,1327.2 1231.2,1325.3 1231.7,1327.1 1232.2,1326.0 1232.6,1328.2 1233.1,1326.7 1233.5,1326.1 1234.0,1328.4 1234.4,1326.9 1234.8,1326.2 1235.3,1326.8 1235.8,1326.5 1236.2,1326.5 1236.7,1324.7 1237.1,1325.9 1237.6,1324.3 1238.0,1324.9 1238.4,1323.1 1238.9,1322.6 1239.3,1325.2 1239.8,1324.9 1240.2,1326.0 1240.7,1324.1 1241.2,1325.6 1241.6,1328.3 1242.1,1328.2 1242.5,1325.6 1243.0,1327.6 1243.4,1327.7 1243.8,1328.5 1244.3,1326.4 1244.8,1325.8 1245.2,1327.7 1245.7,1326.8 1246.1,1326.9 1246.6,1326.6 1247.0,1328.6 1247.5,1326.6 1247.9,1328.3 1248.3,1327.9 1248.8,1326.7 1249.2,1328.2 1249.7,1328.4 1250.2,1327.5 1250.6,1326.9 1251.1,1327.6 1251.5,1325.9 1252.0,1326.3 1252.4,1326.1 1252.8,1321.9 1253.3,1319.9 1253.8,1320.6 1254.2,1320.4 1254.7,1322.3 1255.1,1324.4 1255.6,1324.9 1256.0,1326.3 1256.5,1325.6 1256.9,1326.1 1257.3,1326.5 1257.8,1326.8 1258.2,1325.6 1258.7,1325.7 1259.2,1325.0 1259.6,1323.2 1260.1,1319.9 1260.5,1316.4 1261.0,1305.9 1261.4,1288.6 1261.8,1247.9 1262.3,1294.5 1262.8,1308.6 1263.2,1317.4 1263.7,1321.3 1264.1,1322.3 1264.6,1324.5 1265.0,1324.5 1265.5,1326.6 1265.9,1327.8 1266.3,1327.6 1266.8,1326.1 1267.2,1326.2 1267.7,1326.9 1268.2,1327.0 1268.6,1327.8 1269.1,1326.8 1269.5,1327.9 1270.0,1326.3 1270.4,1327.3 1270.8,1324.6 1271.3,1324.7 1271.8,1324.2 1272.2,1323.7 1272.7,1322.1 1273.1,1319.7 1273.7,1319.8 1274.0,1320.0 1274.5,1320.8 1274.9,1321.8 1275.3,1323.4 1275.8,1323.4 1276.2,1326.0 1276.7,1327.1 1277.2,1325.9 1277.6,1326.3 1278.1,1328.3 1278.5,1328.3 1279.0,1326.7 1279.4,1326.9 1279.8,1325.9 1280.3,1327.9 1280.8,1327.6 1281.2,1327.2 1281.7,1328.6 1282.1,1325.1 1282.6,1322.8 1283.1,1320.8 1283.5,1321.7 1283.9,1325.3 1284.3,1326.1 1284.8,1327.2 1285.2,1329.4 1285.7,1327.1 1286.2,1326.7 1286.6,1327.9 1287.1,1327.2 1287.5,1327.2 1288.0,1327.9 1288.4,1328.5 1288.8,1326.4 1289.3,1327.5 1289.8,1325.8 1290.2,1328.0 1290.7,1325.9 1291.1,1326.4 1291.6,1326.2 1292.0,1324.6 1292.5,1322.8 1292.9,1321.6 1293.3,1326.0 1293.8,1325.3 1294.2,1327.3 1294.7,1326.8 1295.2,1327.4 1295.6,1329.1 1296.1,1326.4 1296.5,1326.8 1297.0,1327.7 1297.4,1328.8 1297.8,1325.9 1298.3,1329.0 1298.8,1327.6 1299.2,1328.6 1299.7,1330.2 1300.1,1328.5 1300.6,1328.9 1301.0,1329.2 1301.5,1327.8 1301.9,1328.2 1302.3,1327.9 1302.8,1328.2 1303.2,1327.8 1303.7,1327.6 1304.2,1327.5 1304.6,1328.6 1305.1,1326.8 1305.5,1328.0 1306.0,1328.9 1306.4,1326.5 1306.8,1325.9 1307.3,1327.5 1307.8,1325.7 1308.2,1324.9 1308.7,1325.1 1309.1,1324.0 1309.6,1323.3 1310.0,1323.3 1310.5,1323.2 1310.9,1324.9 1311.3,1326.1 1311.8,1327.3 1312.2,1327.8 1312.7,1329.0 1313.2,1327.7 1313.6,1328.7 1314.1,1328.2 1314.5,1327.2 1315.0,1328.3 1315.4,1328.3 1315.8,1328.6 1316.3,1328.5 1316.8,1328.2 1317.2,1327.4 1317.7,1327.9 1318.1,1328.4 1318.6,1328.7 1319.0,1328.8 1319.5,1328.4 1319.9,1328.7 1320.3,1329.3 1320.8,1328.3 1321.2,1327.7 1321.7,1327.0 1322.2,1328.2 1322.6,1328.6 1323.1,1327.8 1323.5,1329.3 1324.0,1327.4 1324.4,1327.8 1324.8,1328.1 1325.3,1327.1 1325.8,1328.9 1326.2,1327.5 1326.7,1327.1 1327.1,1326.6 1327.6,1328.7 1328.0,1329.0 1328.5,1327.1 1328.9,1326.8 1329.3,1327.5 1329.8,1327.8 1330.2,1327.3 1330.7,1328.0 1331.2,1326.6 1331.6,1328.8 1332.1,1327.0 1332.5,1327.0 1333.0,1325.1 1333.4,1325.2 1333.8,1324.5 1334.3,1321.3 1334.8,1320.7 1335.2,1320.3 1335.7,1319.0 1336.1,1318.5 1336.6,1319.5 1337.0,1321.3 1337.5,1322.1 1337.9,1322.0 1338.3,1323.2 1338.8,1321.2 1339.2,1322.7 1339.7,1323.1 1340.2,1322.8 1340.5,1322.1 1341.1,1322.8 1341.5,1323.5 1342.0,1324.1 1342.4,1324.5 1342.8,1324.8 1343.3,1326.0 1343.8,1326.0 1344.2,1325.7 1344.7,1328.4 1345.1,1326.5 1345.6,1327.3 1346.0,1327.3 1346.5,1326.5 1346.9,1328.1 1347.3,1326.6 1347.8,1329.3 1348.2,1326.9 1348.7,1327.4 1349.2,1327.9 1349.6,1327.9 1350.1,1328.0 1350.5,1328.9 1351.0,1329.1 1351.4,1329.9 1351.8,1327.4 1352.3,1329.1 1352.8,1328.9 1353.2,1328.1 1353.7,1327.4 1354.1,1330.2 1354.6,1329.3 1355.0,1327.1 1355.5,1329.6 1355.9,1328.8 1356.3,1328.6 1356.8,1329.0 1357.2,1328.0 1357.7,1328.4 1358.2,1329.2 1358.6,1327.6 1359.1,1327.4 1359.5,1327.2 1360.0,1329.0 1360.4,1327.7 1360.8,1328.2 1361.3,1328.1 1361.8,1328.9 1362.2,1328.7 1362.7,1327.9 1363.1,1329.5 1363.6,1328.8 1364.0,1328.7 1364.5,1328.2 1364.9,1328.2 1365.3,1328.3 1365.8,1328.5 1366.2,1328.8 1366.7,1328.8 1367.2,1328.3 1367.6,1328.4 1368.1,1329.0 1368.5,1329.4 1369.0,1329.4 1369.4,1328.5 1369.8,1327.6 1370.3,1328.6 1370.8,1328.6 1371.2,1328.6 1371.7,1328.9 1372.1,1328.2 1372.6,1328.6 1373.0,1326.8 1373.5,1329.8 1373.9,1328.5 1374.3,1328.3 1374.8,1328.9 1375.2,1328.3 1375.7,1328.0 1376.2,1329.1 1376.6,1328.6 1377.1,1328.0 1377.5,1329.0 1378.0,1328.9 1378.4,1328.8 1378.8,1328.3 1379.3,1329.3 1379.8,1327.9 1380.2,1329.1 1380.7,1329.6 1381.1,1327.9 1381.6,1328.7 1382.0,1327.2 1382.5,1328.5 1382.9,1327.3 1383.3,1327.5 1383.8,1328.7 1384.2,1329.3 1384.7,1328.9 1385.2,1328.3 1385.6,1327.9 1386.1,1328.5 1386.5,1330.2 1387.0,1329.5 1387.4,1327.5 1387.8,1327.9 1388.3,1327.4 1388.8,1328.8 1389.2,1328.2 1389.7,1327.3 1390.1,1328.3 1390.5,1328.0 1391.0,1327.6 1391.5,1328.1 1391.9,1328.9 1392.4,1327.6 1392.8,1328.0 1393.2,1327.2 1393.7,1327.9 1394.2,1329.1 1394.6,1328.4 1395.0,1327.4 1395.5,1327.4 1396.0,1328.5 1396.4,1327.3 1396.9,1326.8 1397.3,1327.5 1397.8,1325.7 1398.2,1324.3 1398.7,1323.3 1399.1,1319.0 1399.5,1314.4 1400.0,1304.9 1400.5,1288.7 1400.9,1252.6 1401.3,1176.8 1401.8,1264.4 1402.2,1293.2 1402.7,1308.2 1403.2,1315.7 1403.6,1320.6 1404.0,1323.5 1404.5,1324.9 1405.0,1326.3 1405.4,1326.1 1405.9,1325.1 1406.3,1324.9 1406.8,1321.5 1407.2,1318.6 1407.7,1308.4 1408.2,1303.6 1408.5,1306.5 1409.0,1312.6 1409.5,1318.3 1409.9,1320.5 1410.4,1315.0 1410.8,1308.0 1411.2,1298.3 1411.5,1296.6 1412.2,1308.3 1412.6,1317.0 1413.0,1322.8 1413.5,1325.3 1414.0,1326.8 1414.4,1327.1 1414.9,1328.8 1415.3,1327.9 1415.8,1327.5 1416.2,1327.8 1416.7,1328.5 1417.1,1327.5 1417.5,1327.8 1418.0,1327.3 1418.5,1326.9 1418.9,1330.1 1419.4,1328.4 1419.8,1329.8 1420.2,1329.0 1420.7,1328.8 1421.2,1327.9 1421.6,1328.6 1422.0,1328.8 1422.5,1328.1 1423.0,1329.2 1423.4,1329.6 1423.9,1329.1 1424.3,1328.9 1424.8,1327.6 1425.2,1330.7 1425.7,1329.3 1426.1,1328.0 1426.5,1328.0 1427.0,1328.4 1427.5,1328.1 1427.9,1328.8 1428.4,1328.2 1428.8,1328.9 1429.2,1328.5 1429.7,1328.7 1430.2,1328.0 1430.6,1329.0 1431.0,1329.0 1431.5,1328.3 1432.0,1327.8 1432.4,1328.9 1432.9,1327.7 1433.3,1328.3 1433.8,1329.2 1434.2,1329.7 1434.7,1328.7 1435.1,1329.1 1435.5,1329.8 1436.0,1328.2 1436.5,1328.6 1436.9,1329.1 1437.4,1329.8 1437.8,1328.1 1438.2,1328.1 1438.7,1329.5 1439.2,1329.7 1439.6,1328.5 1440.0,1328.9 1440.5,1329.6 1441.0,1328.8 1441.4,1327.6 1441.9,1329.1 1442.3,1329.5 1442.8,1328.1 1443.2,1329.8 1443.7,1328.7 1444.1,1327.7 1444.5,1329.1 1445.0,1327.9 1445.5,1329.8 1445.9,1329.2 1446.4,1330.1 1446.8,1327.8 1447.2,1329.0 1447.7,1329.9 1448.2,1329.7 1448.6,1329.4 1449.0,1329.2 1449.5,1329.4 1450.0,1329.6 1450.4,1330.1 1450.9,1327.8 1451.3,1328.3 1451.8,1328.6 1452.2,1329.1 1452.7,1329.2 1453.1,1328.7 1453.5,1328.9 1454.0,1329.4 1454.5,1329.7 1454.9,1328.4 1455.4,1328.8 1455.8,1329.0 1456.2,1330.6 1456.7,1328.5 1457.2,1329.1 1457.6,1329.0 1458.0,1328.6 1458.5,1329.5 1459.0,1328.9 1459.4,1328.6 1459.9,1328.9 1460.3,1329.1 1460.8,1328.5 1461.2,1328.4 1461.7,1329.6 1462.1,1328.5 1462.5,1329.5 1463.0,1328.8 1463.5,1328.3 1463.9,1328.1 1464.4,1327.7 1464.8,1329.3 1465.2,1329.2 1465.7,1328.5 1466.2,1328.1 1466.6,1328.4 1467.0,1328.8 1467.5,1329.5 1468.0,1328.3 1468.4,1327.6 1468.9,1328.8 1469.3,1328.4 1469.8,1328.1 1470.2,1327.3 1470.7,1328.8 1471.1,1329.2 1471.5,1327.5 1472.0,1327.0 1472.5,1327.3 1472.9,1327.1 1473.4,1327.1 1473.8,1326.4 1474.2,1324.8 1474.7,1325.8 1475.0,1325.6 1475.6,1325.3 1476.0,1326.2 1476.5,1325.5 1477.0,1326.5 1477.4,1326.2 1477.9,1327.2 1478.3,1327.8 1478.8,1326.1 1479.2,1327.3 1479.7,1327.5 1480.1,1326.7 1480.5,1326.6 1481.0,1323.7 1481.5,1321.5 1481.9,1314.3 1482.4,1305.3 1482.8,1297.4 1483.3,1293.0 1483.7,1296.8 1484.2,1305.1 1484.6,1313.7 1485.0,1319.6 1485.5,1323.1 1486.0,1325.1 1486.4,1325.8 1486.9,1327.6 1487.3,1326.7 1487.8,1327.6 1488.2,1328.1 1488.7,1328.4 1489.1,1327.3 1489.5,1327.5 1490.0,1327.6 1490.5,1328.9 1490.9,1327.7 1491.4,1327.9 1491.8,1328.9 1492.2,1329.1 1492.7,1329.8 1493.2,1328.6 1493.6,1329.2 1494.0,1327.5 1494.5,1329.0 1495.0,1329.2 1495.4,1329.3 1495.9,1328.4 1496.3,1329.6 1496.8,1329.7 1497.2,1328.7 1497.7,1328.7 1498.1,1328.4 1498.5,1328.4 1499.0,1328.5 1499.5,1327.7 1499.9,1327.5 1500.4,1328.1 1500.8,1327.8 1501.2,1328.5 1501.7,1327.5 1502.2,1326.3 1502.6,1324.0 1503.0,1321.0 1503.5,1313.5 1504.0,1304.9 1504.3,1303.1 1504.9,1308.3 1505.3,1318.7 1505.8,1325.3 1506.2,1326.2 1506.7,1327.0 1507.1,1328.2 1507.5,1327.5 1508.0,1328.4 1508.5,1328.9 1508.9,1327.7 1509.4,1329.5 1509.8,1328.7 1510.2,1328.9 1510.7,1329.5 1511.2,1327.9 1511.6,1328.0 1512.0,1329.0 1512.5,1329.0 1513.0,1328.7 1513.4,1328.7 1513.9,1328.7 1514.3,1328.2 1514.8,1328.0 1515.2,1328.4 1515.7,1328.9 1516.1,1329.1 1516.5,1328.0 1517.0,1329.9 1517.5,1330.3 1517.9,1329.0 1518.4,1328.3 1518.8,1328.7 1519.2,1329.3 1519.7,1328.8 1520.2,1330.0 1520.6,1328.6 1521.0,1329.4 1521.5,1329.1 1522.0,1330.2 1522.4,1329.0 1522.9,1329.0 1523.3,1328.1 1523.8,1328.5 1524.2,1327.8 1524.7,1330.5 1525.1,1328.5 1525.5,1328.2 1526.0,1328.1 1526.5,1327.9 1526.9,1327.2 1527.4,1323.8 1527.8,1322.3 1528.2,1316.7 1528.9,1312.0 1529.2,1314.0 1529.6,1317.3 1530.0,1321.4 1530.5,1324.6 1531.0,1327.4 1531.4,1327.7 1531.9,1328.1 1532.3,1327.4 1532.8,1328.4 1533.2,1327.9 1533.7,1327.8 1534.1,1329.1 1534.5,1328.3 1535.0,1327.6 1535.5,1327.5 1535.9,1326.7 1536.4,1323.0 1536.8,1323.1 1537.2,1324.1 1537.7,1325.4 1538.2,1327.7 1538.6,1328.1 1539.0,1327.7 1539.5,1328.8 1540.0,1327.8 1540.4,1327.8 1540.9,1326.6 1541.3,1326.8 1541.8,1325.2 1542.2,1320.5 1542.7,1313.5 1543.1,1306.5 1543.4,1303.5 1544.0,1310.3 1544.5,1319.7 1544.9,1323.4 1545.4,1324.9 1545.8,1326.6 1546.2,1327.7 1546.7,1327.4 1547.2,1327.6 1547.6,1328.1 1548.0,1328.4 1548.5,1328.4 1549.0,1328.6 1549.4,1329.4 1549.9,1330.8 1550.3,1329.5 1550.8,1329.2 1551.2,1328.4 1551.7,1328.9 1552.1,1328.2 1552.5,1328.8 1553.0,1328.2 1553.5,1329.6 1553.9,1330.2 1554.4,1329.5 1554.8,1330.6 1555.2,1328.2 1555.7,1329.5 1556.2,1328.8 1556.6,1329.0 1557.0,1328.3 1557.5,1328.9 1558.0,1328.9 1558.4,1328.5 1558.9,1329.7 1559.3,1329.4 1559.8,1329.7 1560.2,1328.6 1560.7,1328.5 1561.1,1328.2 1561.5,1329.5 1562.0,1329.6 1562.5,1328.9 1562.9,1328.5 1563.4,1329.0 1563.8,1329.3 1564.2,1329.3 1564.7,1328.8 1565.2,1329.7 1565.6,1329.8 1566.0,1328.4 1566.5,1329.1 1567.0,1329.0 1567.4,1328.1 1567.9,1328.6 1568.3,1329.1 1568.8,1329.7 1569.2,1328.5 1569.7,1328.7 1570.1,1328.8 1570.5,1328.7 1571.0,1328.0 1571.5,1329.4 1571.9,1328.8 1572.4,1329.2 1572.8,1329.3 1573.2,1328.6 1573.7,1328.2 1574.2,1328.4 1574.6,1328.5 1575.0,1328.2 1575.5,1328.5 1576.0,1327.7 1576.4,1328.2 1576.9,1327.9 1577.3,1328.1 1577.8,1327.4 1578.2,1326.2 1578.7,1322.2 1579.1,1317.3 1579.5,1314.8 1580.0,1317.9 1580.5,1322.6 1580.9,1325.5 1581.4,1327.4 1581.8,1327.6 1582.2,1328.6 1582.7,1328.0 1583.2,1328.4 1583.6,1328.4 1584.0,1330.4 1584.5,1328.9 1585.0,1329.5 1585.4,1328.1 1585.9,1329.3 1586.3,1328.7 1586.8,1329.5 1587.2,1328.7 1587.7,1328.2 1588.1,1329.4 1588.5,1329.0 1589.0,1328.1 1589.5,1328.9 1589.9,1328.4 1590.4,1329.4 1590.8,1329.0 1591.2,1329.2 1591.7,1328.4 1592.2,1329.8 1592.6,1328.6 1593.0,1329.2 1593.5,1328.9 1594.0,1329.1 1594.4,1328.2 1594.9,1329.1 1595.3,1329.3 1595.8,1328.2 1596.2,1329.7 1596.7,1328.4 1597.1,1328.7 1597.5,1328.6 1598.0,1329.7 1598.5,1328.7 1598.9,1328.8 1599.4,1329.2 1599.8,1329.1 1600.2,1329.7 1600.7,1328.8 1601.2,1328.6 1601.6,1328.5 1602.0,1328.5 1602.5,1329.5 1603.0,1329.3 1603.4,1328.8 1603.9,1328.9 1604.3,1327.6 1604.8,1329.5 1605.2,1329.3 1605.7,1327.7 1606.1,1328.7 1606.5,1329.0 1607.0,1329.9 1607.5,1329.2 1607.9,1329.8 1608.4,1330.0 1608.8,1329.5 1609.2,1328.4 1609.7,1328.2 1610.2,1328.8 1610.6,1329.5 1611.0,1329.3 1611.5,1328.2 1612.0,1329.5 1612.4,1328.5 1612.9,1328.8 1613.3,1329.7 1613.8,1329.1 1614.2,1328.7 1614.7,1328.6 1615.1,1329.1 1615.5,1329.2 1616.0,1328.9 1616.5,1328.6 1616.9,1329.3 1617.4,1329.6 1617.8,1328.3 1618.2,1329.4 1618.7,1328.7 1619.2,1328.9"/>
<g>
<text transform="translate(185.00,1501.90) scale(0.975,1)" font-size="89.50" text-anchor="middle">0</text>
<text transform="translate(364.67,1501.90) scale(0.975,1)" font-size="89.50" text-anchor="middle">10</text>
<text transform="translate(544.33,1501.90) scale(0.975,1)" font-size="89.50" text-anchor="middle">20</text>
<text transform="translate(724.00,1501.90) scale(0.975,1)" font-size="89.50" text-anchor="middle">30</text>
<text transform="translate(903.67,1501.90) scale(0.975,1)" font-size="89.50" text-anchor="middle">40</text>
<text transform="translate(1083.33,1501.90) scale(0.975,1)" font-size="89.50" text-anchor="middle">50</text>
<text transform="translate(1263.00,1501.90) scale(0.975,1)" font-size="89.50" text-anchor="middle">60</text>
<text transform="translate(1442.67,1501.90) scale(0.975,1)" font-size="89.50" text-anchor="middle">70</text>
<text transform="translate(1622.33,1501.90) scale(0.975,1)" font-size="89.50" text-anchor="middle">80</text>
<text transform="translate(1802.00,1501.90) scale(0.975,1)" font-size="89.50" text-anchor="middle">90</text>
<text font-size="118.60"><tspan x="893.59" y="1624.00">2</tspan><tspan x="954.24" y="1624.90">θ</tspan><tspan x="1011.10" y="1624.60">/</tspan><tspan x="1042.92" y="1622.80">°</tspan></text>
<text transform="translate(148.1,1084.90) rotate(-90)" font-size="118.60" font-weight="bold">Intensity(a.u.)</text>
<text font-size="86.80"><tspan x="1294.05" y="110.90">A </tspan><tspan x="1376.59" y="104.66" font-size="60.00" textLength="86.72" lengthAdjust="spacingAndGlyphs">—</tspan><tspan x="1462.59" y="110.90"> SiO</tspan><tspan x="1616.81" y="133.30" font-size="59.00">2</tspan></text>
<text font-size="86.80"><tspan x="1292.40" y="235.80">B </tspan><tspan x="1371.69" y="229.56" font-size="60.00" textLength="86.72" lengthAdjust="spacingAndGlyphs">—</tspan><tspan x="1456.94" y="235.80"> C-S-H</tspan></text>
<text font-size="86.80"><tspan x="1292.84" y="345.30">C </tspan><tspan x="1371.69" y="339.06" font-size="60.00" textLength="86.72" lengthAdjust="spacingAndGlyphs">—</tspan><tspan x="1462.34" y="345.30"> AFt</tspan></text>
<text font-size="86.80"><tspan x="1292.40" y="451.20">D </tspan><tspan x="1376.19" y="444.96" font-size="60.00" textLength="86.72" lengthAdjust="spacingAndGlyphs">—</tspan><tspan x="1461.74" y="451.20"> Ca(OH)</tspan><tspan x="1759.21" y="475.00" font-size="59.00">2</tspan></text>
<text font-size="86.80"><tspan x="1293.30" y="579.60">E </tspan><tspan x="1367.19" y="573.36" font-size="60.00" textLength="86.72" lengthAdjust="spacingAndGlyphs">—</tspan><tspan x="1452.44" y="579.60"> C</tspan><tspan x="1530.71" y="600.50" font-size="59.00">2</tspan><tspan x="1560.29" y="579.60">S</tspan></text>
<text x="466.41" y="664.70" font-size="58.20">C</text>
<text x="494.47" y="616.70" font-size="56.50">D</text>
<text x="544.55" y="440.80" font-size="56.00">A</text>
<text x="647.55" y="339.70" font-size="56.00">A</text>
<text x="673.49" y="434.90" font-size="56.00">B</text>
<text x="701.51" y="565.70" font-size="58.20">C</text>
<text x="748.39" y="714.60" font-size="56.00">B</text>
<text x="779.37" y="647.70" font-size="56.50">D</text>
<text x="883.51" y="705.80" font-size="58.20">C</text>
<text x="933.51" y="680.40" font-size="58.20">C</text>
<text x="986.69" y="720.30" font-size="56.00">B</text>
<text x="1021.47" y="694.50" font-size="56.50">D</text>
<text x="1071.31" y="648.60" font-size="58.20">C</text>
<text x="1156.31" y="654.80" font-size="58.20">C</text>
<text x="1247.25" y="691.80" font-size="56.00">A</text>
<text x="1322.26" y="736.60" font-size="57.00">E</text>
<text x="1494.16" y="739.60" font-size="57.00">E</text>
<text transform="translate(594.00,708.0) scale(0.805,1)" x="-1.63" y="0" font-size="56.50">E</text>
<text x="1642.29" y="775.00" font-size="80.60">OG</text>
<text x="1638.98" y="1339.40" font-size="80.60">BG</text>
</g>
</svg>
</body></html>
